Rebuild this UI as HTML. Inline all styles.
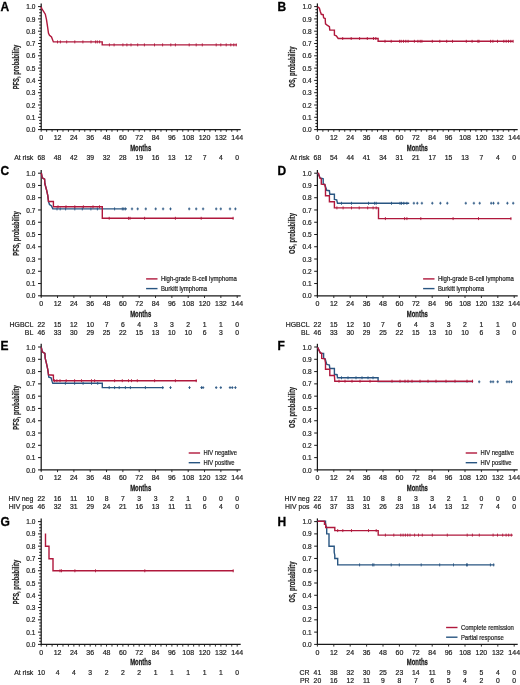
<!DOCTYPE html>
<html><head><meta charset="utf-8"><style>
html,body{margin:0;padding:0;background:#fff;}
svg{display:block;filter:blur(0.35px);}
text{font-family:"Liberation Sans", sans-serif;}
.t{fill:#222;stroke:#222;stroke-width:0.2px;}
.b{fill:#222;stroke:#222;stroke-width:0.1px;}
</style></head><body>
<svg width="520" height="685" viewBox="0 0 520 685">
<text x="0.6" y="10.8" font-size="12" font-weight="bold" fill="#000" stroke="#000" stroke-width="0.3">A</text>
<line x1="41.20" y1="3.40" x2="41.20" y2="130.10" stroke="#1a1a1a" stroke-width="1.25"/>
<line x1="40.70" y1="129.60" x2="240.70" y2="129.60" stroke="#1a1a1a" stroke-width="1.25"/>
<line x1="38.00" y1="129.60" x2="41.20" y2="129.60" stroke="#1a1a1a" stroke-width="1.0"/>
<text x="35.40" y="132.20" font-size="6.5" text-anchor="end" class="t">0.0</text>
<line x1="38.00" y1="117.30" x2="41.20" y2="117.30" stroke="#1a1a1a" stroke-width="1.0"/>
<text x="35.40" y="119.90" font-size="6.5" text-anchor="end" class="t">0.1</text>
<line x1="38.00" y1="105.00" x2="41.20" y2="105.00" stroke="#1a1a1a" stroke-width="1.0"/>
<text x="35.40" y="107.60" font-size="6.5" text-anchor="end" class="t">0.2</text>
<line x1="38.00" y1="92.70" x2="41.20" y2="92.70" stroke="#1a1a1a" stroke-width="1.0"/>
<text x="35.40" y="95.30" font-size="6.5" text-anchor="end" class="t">0.3</text>
<line x1="38.00" y1="80.40" x2="41.20" y2="80.40" stroke="#1a1a1a" stroke-width="1.0"/>
<text x="35.40" y="83.00" font-size="6.5" text-anchor="end" class="t">0.4</text>
<line x1="38.00" y1="68.10" x2="41.20" y2="68.10" stroke="#1a1a1a" stroke-width="1.0"/>
<text x="35.40" y="70.70" font-size="6.5" text-anchor="end" class="t">0.5</text>
<line x1="38.00" y1="55.80" x2="41.20" y2="55.80" stroke="#1a1a1a" stroke-width="1.0"/>
<text x="35.40" y="58.40" font-size="6.5" text-anchor="end" class="t">0.6</text>
<line x1="38.00" y1="43.50" x2="41.20" y2="43.50" stroke="#1a1a1a" stroke-width="1.0"/>
<text x="35.40" y="46.10" font-size="6.5" text-anchor="end" class="t">0.7</text>
<line x1="38.00" y1="31.20" x2="41.20" y2="31.20" stroke="#1a1a1a" stroke-width="1.0"/>
<text x="35.40" y="33.80" font-size="6.5" text-anchor="end" class="t">0.8</text>
<line x1="38.00" y1="18.90" x2="41.20" y2="18.90" stroke="#1a1a1a" stroke-width="1.0"/>
<text x="35.40" y="21.50" font-size="6.5" text-anchor="end" class="t">0.9</text>
<line x1="38.00" y1="6.60" x2="41.20" y2="6.60" stroke="#1a1a1a" stroke-width="1.0"/>
<text x="35.40" y="9.20" font-size="6.5" text-anchor="end" class="t">1.0</text>
<line x1="39.20" y1="126.52" x2="41.20" y2="126.52" stroke="#1a1a1a" stroke-width="1.0"/>
<line x1="39.20" y1="123.45" x2="41.20" y2="123.45" stroke="#1a1a1a" stroke-width="1.0"/>
<line x1="39.20" y1="120.38" x2="41.20" y2="120.38" stroke="#1a1a1a" stroke-width="1.0"/>
<line x1="39.20" y1="114.22" x2="41.20" y2="114.22" stroke="#1a1a1a" stroke-width="1.0"/>
<line x1="39.20" y1="111.15" x2="41.20" y2="111.15" stroke="#1a1a1a" stroke-width="1.0"/>
<line x1="39.20" y1="108.07" x2="41.20" y2="108.07" stroke="#1a1a1a" stroke-width="1.0"/>
<line x1="39.20" y1="101.92" x2="41.20" y2="101.92" stroke="#1a1a1a" stroke-width="1.0"/>
<line x1="39.20" y1="98.85" x2="41.20" y2="98.85" stroke="#1a1a1a" stroke-width="1.0"/>
<line x1="39.20" y1="95.77" x2="41.20" y2="95.77" stroke="#1a1a1a" stroke-width="1.0"/>
<line x1="39.20" y1="89.62" x2="41.20" y2="89.62" stroke="#1a1a1a" stroke-width="1.0"/>
<line x1="39.20" y1="86.55" x2="41.20" y2="86.55" stroke="#1a1a1a" stroke-width="1.0"/>
<line x1="39.20" y1="83.47" x2="41.20" y2="83.47" stroke="#1a1a1a" stroke-width="1.0"/>
<line x1="39.20" y1="77.32" x2="41.20" y2="77.32" stroke="#1a1a1a" stroke-width="1.0"/>
<line x1="39.20" y1="74.25" x2="41.20" y2="74.25" stroke="#1a1a1a" stroke-width="1.0"/>
<line x1="39.20" y1="71.17" x2="41.20" y2="71.17" stroke="#1a1a1a" stroke-width="1.0"/>
<line x1="39.20" y1="65.02" x2="41.20" y2="65.02" stroke="#1a1a1a" stroke-width="1.0"/>
<line x1="39.20" y1="61.95" x2="41.20" y2="61.95" stroke="#1a1a1a" stroke-width="1.0"/>
<line x1="39.20" y1="58.88" x2="41.20" y2="58.88" stroke="#1a1a1a" stroke-width="1.0"/>
<line x1="39.20" y1="52.72" x2="41.20" y2="52.72" stroke="#1a1a1a" stroke-width="1.0"/>
<line x1="39.20" y1="49.65" x2="41.20" y2="49.65" stroke="#1a1a1a" stroke-width="1.0"/>
<line x1="39.20" y1="46.57" x2="41.20" y2="46.57" stroke="#1a1a1a" stroke-width="1.0"/>
<line x1="39.20" y1="40.42" x2="41.20" y2="40.42" stroke="#1a1a1a" stroke-width="1.0"/>
<line x1="39.20" y1="37.35" x2="41.20" y2="37.35" stroke="#1a1a1a" stroke-width="1.0"/>
<line x1="39.20" y1="34.27" x2="41.20" y2="34.27" stroke="#1a1a1a" stroke-width="1.0"/>
<line x1="39.20" y1="28.12" x2="41.20" y2="28.12" stroke="#1a1a1a" stroke-width="1.0"/>
<line x1="39.20" y1="25.05" x2="41.20" y2="25.05" stroke="#1a1a1a" stroke-width="1.0"/>
<line x1="39.20" y1="21.97" x2="41.20" y2="21.97" stroke="#1a1a1a" stroke-width="1.0"/>
<line x1="39.20" y1="15.82" x2="41.20" y2="15.82" stroke="#1a1a1a" stroke-width="1.0"/>
<line x1="39.20" y1="12.75" x2="41.20" y2="12.75" stroke="#1a1a1a" stroke-width="1.0"/>
<line x1="39.20" y1="9.67" x2="41.20" y2="9.67" stroke="#1a1a1a" stroke-width="1.0"/>
<line x1="41.20" y1="129.60" x2="41.20" y2="131.80" stroke="#1a1a1a" stroke-width="0.9"/>
<line x1="46.64" y1="129.60" x2="46.64" y2="131.80" stroke="#1a1a1a" stroke-width="0.9"/>
<line x1="52.09" y1="129.60" x2="52.09" y2="131.80" stroke="#1a1a1a" stroke-width="0.9"/>
<line x1="57.53" y1="129.60" x2="57.53" y2="131.80" stroke="#1a1a1a" stroke-width="0.9"/>
<line x1="62.98" y1="129.60" x2="62.98" y2="131.80" stroke="#1a1a1a" stroke-width="0.9"/>
<line x1="68.42" y1="129.60" x2="68.42" y2="131.80" stroke="#1a1a1a" stroke-width="0.9"/>
<line x1="73.87" y1="129.60" x2="73.87" y2="131.80" stroke="#1a1a1a" stroke-width="0.9"/>
<line x1="79.31" y1="129.60" x2="79.31" y2="131.80" stroke="#1a1a1a" stroke-width="0.9"/>
<line x1="84.76" y1="129.60" x2="84.76" y2="131.80" stroke="#1a1a1a" stroke-width="0.9"/>
<line x1="90.20" y1="129.60" x2="90.20" y2="131.80" stroke="#1a1a1a" stroke-width="0.9"/>
<line x1="95.64" y1="129.60" x2="95.64" y2="131.80" stroke="#1a1a1a" stroke-width="0.9"/>
<line x1="101.09" y1="129.60" x2="101.09" y2="131.80" stroke="#1a1a1a" stroke-width="0.9"/>
<line x1="106.53" y1="129.60" x2="106.53" y2="131.80" stroke="#1a1a1a" stroke-width="0.9"/>
<line x1="111.98" y1="129.60" x2="111.98" y2="131.80" stroke="#1a1a1a" stroke-width="0.9"/>
<line x1="117.42" y1="129.60" x2="117.42" y2="131.80" stroke="#1a1a1a" stroke-width="0.9"/>
<line x1="122.87" y1="129.60" x2="122.87" y2="131.80" stroke="#1a1a1a" stroke-width="0.9"/>
<line x1="128.31" y1="129.60" x2="128.31" y2="131.80" stroke="#1a1a1a" stroke-width="0.9"/>
<line x1="133.76" y1="129.60" x2="133.76" y2="131.80" stroke="#1a1a1a" stroke-width="0.9"/>
<line x1="139.20" y1="129.60" x2="139.20" y2="131.80" stroke="#1a1a1a" stroke-width="0.9"/>
<line x1="144.64" y1="129.60" x2="144.64" y2="131.80" stroke="#1a1a1a" stroke-width="0.9"/>
<line x1="150.09" y1="129.60" x2="150.09" y2="131.80" stroke="#1a1a1a" stroke-width="0.9"/>
<line x1="155.53" y1="129.60" x2="155.53" y2="131.80" stroke="#1a1a1a" stroke-width="0.9"/>
<line x1="160.98" y1="129.60" x2="160.98" y2="131.80" stroke="#1a1a1a" stroke-width="0.9"/>
<line x1="166.42" y1="129.60" x2="166.42" y2="131.80" stroke="#1a1a1a" stroke-width="0.9"/>
<line x1="171.87" y1="129.60" x2="171.87" y2="131.80" stroke="#1a1a1a" stroke-width="0.9"/>
<line x1="177.31" y1="129.60" x2="177.31" y2="131.80" stroke="#1a1a1a" stroke-width="0.9"/>
<line x1="182.76" y1="129.60" x2="182.76" y2="131.80" stroke="#1a1a1a" stroke-width="0.9"/>
<line x1="188.20" y1="129.60" x2="188.20" y2="131.80" stroke="#1a1a1a" stroke-width="0.9"/>
<line x1="193.64" y1="129.60" x2="193.64" y2="131.80" stroke="#1a1a1a" stroke-width="0.9"/>
<line x1="199.09" y1="129.60" x2="199.09" y2="131.80" stroke="#1a1a1a" stroke-width="0.9"/>
<line x1="204.53" y1="129.60" x2="204.53" y2="131.80" stroke="#1a1a1a" stroke-width="0.9"/>
<line x1="209.98" y1="129.60" x2="209.98" y2="131.80" stroke="#1a1a1a" stroke-width="0.9"/>
<line x1="215.42" y1="129.60" x2="215.42" y2="131.80" stroke="#1a1a1a" stroke-width="0.9"/>
<line x1="220.87" y1="129.60" x2="220.87" y2="131.80" stroke="#1a1a1a" stroke-width="0.9"/>
<line x1="226.31" y1="129.60" x2="226.31" y2="131.80" stroke="#1a1a1a" stroke-width="0.9"/>
<line x1="231.76" y1="129.60" x2="231.76" y2="131.80" stroke="#1a1a1a" stroke-width="0.9"/>
<line x1="237.20" y1="129.60" x2="237.20" y2="131.80" stroke="#1a1a1a" stroke-width="0.9"/>
<text x="41.20" y="139.50" font-size="7.0" text-anchor="middle" class="t">0</text>
<text x="57.53" y="139.50" font-size="7.0" text-anchor="middle" class="t">12</text>
<text x="73.87" y="139.50" font-size="7.0" text-anchor="middle" class="t">24</text>
<text x="90.20" y="139.50" font-size="7.0" text-anchor="middle" class="t">36</text>
<text x="106.53" y="139.50" font-size="7.0" text-anchor="middle" class="t">48</text>
<text x="122.87" y="139.50" font-size="7.0" text-anchor="middle" class="t">60</text>
<text x="139.20" y="139.50" font-size="7.0" text-anchor="middle" class="t">72</text>
<text x="155.53" y="139.50" font-size="7.0" text-anchor="middle" class="t">84</text>
<text x="171.87" y="139.50" font-size="7.0" text-anchor="middle" class="t">96</text>
<text x="188.20" y="139.50" font-size="7.0" text-anchor="middle" class="t">108</text>
<text x="204.53" y="139.50" font-size="7.0" text-anchor="middle" class="t">120</text>
<text x="220.87" y="139.50" font-size="7.0" text-anchor="middle" class="t">132</text>
<text x="237.20" y="139.50" font-size="7.0" text-anchor="middle" class="t">144</text>
<text x="140.70" y="151.00" font-size="9" font-weight="bold" text-anchor="middle" fill="#1a1a1a" stroke="#1a1a1a" stroke-width="0.3" textLength="21" lengthAdjust="spacingAndGlyphs">Months</text>
<text transform="translate(18.50,67.10) rotate(-90)" font-size="8.6" font-weight="bold" text-anchor="middle" fill="#222" stroke="#222" stroke-width="0.2" textLength="44.5" lengthAdjust="spacingAndGlyphs">PFS, probability</text>
<text x="33.30" y="159.90" font-size="6.9" text-anchor="end" class="t">At risk</text>
<text x="41.20" y="159.90" font-size="6.8" text-anchor="middle" class="t">68</text>
<text x="57.53" y="159.90" font-size="6.8" text-anchor="middle" class="t">48</text>
<text x="73.87" y="159.90" font-size="6.8" text-anchor="middle" class="t">42</text>
<text x="90.20" y="159.90" font-size="6.8" text-anchor="middle" class="t">39</text>
<text x="106.53" y="159.90" font-size="6.8" text-anchor="middle" class="t">32</text>
<text x="122.87" y="159.90" font-size="6.8" text-anchor="middle" class="t">28</text>
<text x="139.20" y="159.90" font-size="6.8" text-anchor="middle" class="t">19</text>
<text x="155.53" y="159.90" font-size="6.8" text-anchor="middle" class="t">16</text>
<text x="171.87" y="159.90" font-size="6.8" text-anchor="middle" class="t">13</text>
<text x="188.20" y="159.90" font-size="6.8" text-anchor="middle" class="t">12</text>
<text x="204.53" y="159.90" font-size="6.8" text-anchor="middle" class="t">7</text>
<text x="220.87" y="159.90" font-size="6.8" text-anchor="middle" class="t">4</text>
<text x="237.20" y="159.90" font-size="6.8" text-anchor="middle" class="t">0</text>
<text x="277.6" y="10.8" font-size="12" font-weight="bold" fill="#000" stroke="#000" stroke-width="0.3">B</text>
<line x1="317.40" y1="3.40" x2="317.40" y2="130.10" stroke="#1a1a1a" stroke-width="1.25"/>
<line x1="316.90" y1="129.60" x2="517.70" y2="129.60" stroke="#1a1a1a" stroke-width="1.25"/>
<line x1="314.20" y1="129.60" x2="317.40" y2="129.60" stroke="#1a1a1a" stroke-width="1.0"/>
<text x="311.60" y="132.20" font-size="6.5" text-anchor="end" class="t">0.0</text>
<line x1="314.20" y1="117.30" x2="317.40" y2="117.30" stroke="#1a1a1a" stroke-width="1.0"/>
<text x="311.60" y="119.90" font-size="6.5" text-anchor="end" class="t">0.1</text>
<line x1="314.20" y1="105.00" x2="317.40" y2="105.00" stroke="#1a1a1a" stroke-width="1.0"/>
<text x="311.60" y="107.60" font-size="6.5" text-anchor="end" class="t">0.2</text>
<line x1="314.20" y1="92.70" x2="317.40" y2="92.70" stroke="#1a1a1a" stroke-width="1.0"/>
<text x="311.60" y="95.30" font-size="6.5" text-anchor="end" class="t">0.3</text>
<line x1="314.20" y1="80.40" x2="317.40" y2="80.40" stroke="#1a1a1a" stroke-width="1.0"/>
<text x="311.60" y="83.00" font-size="6.5" text-anchor="end" class="t">0.4</text>
<line x1="314.20" y1="68.10" x2="317.40" y2="68.10" stroke="#1a1a1a" stroke-width="1.0"/>
<text x="311.60" y="70.70" font-size="6.5" text-anchor="end" class="t">0.5</text>
<line x1="314.20" y1="55.80" x2="317.40" y2="55.80" stroke="#1a1a1a" stroke-width="1.0"/>
<text x="311.60" y="58.40" font-size="6.5" text-anchor="end" class="t">0.6</text>
<line x1="314.20" y1="43.50" x2="317.40" y2="43.50" stroke="#1a1a1a" stroke-width="1.0"/>
<text x="311.60" y="46.10" font-size="6.5" text-anchor="end" class="t">0.7</text>
<line x1="314.20" y1="31.20" x2="317.40" y2="31.20" stroke="#1a1a1a" stroke-width="1.0"/>
<text x="311.60" y="33.80" font-size="6.5" text-anchor="end" class="t">0.8</text>
<line x1="314.20" y1="18.90" x2="317.40" y2="18.90" stroke="#1a1a1a" stroke-width="1.0"/>
<text x="311.60" y="21.50" font-size="6.5" text-anchor="end" class="t">0.9</text>
<line x1="314.20" y1="6.60" x2="317.40" y2="6.60" stroke="#1a1a1a" stroke-width="1.0"/>
<text x="311.60" y="9.20" font-size="6.5" text-anchor="end" class="t">1.0</text>
<line x1="315.40" y1="126.52" x2="317.40" y2="126.52" stroke="#1a1a1a" stroke-width="1.0"/>
<line x1="315.40" y1="123.45" x2="317.40" y2="123.45" stroke="#1a1a1a" stroke-width="1.0"/>
<line x1="315.40" y1="120.38" x2="317.40" y2="120.38" stroke="#1a1a1a" stroke-width="1.0"/>
<line x1="315.40" y1="114.22" x2="317.40" y2="114.22" stroke="#1a1a1a" stroke-width="1.0"/>
<line x1="315.40" y1="111.15" x2="317.40" y2="111.15" stroke="#1a1a1a" stroke-width="1.0"/>
<line x1="315.40" y1="108.07" x2="317.40" y2="108.07" stroke="#1a1a1a" stroke-width="1.0"/>
<line x1="315.40" y1="101.92" x2="317.40" y2="101.92" stroke="#1a1a1a" stroke-width="1.0"/>
<line x1="315.40" y1="98.85" x2="317.40" y2="98.85" stroke="#1a1a1a" stroke-width="1.0"/>
<line x1="315.40" y1="95.77" x2="317.40" y2="95.77" stroke="#1a1a1a" stroke-width="1.0"/>
<line x1="315.40" y1="89.62" x2="317.40" y2="89.62" stroke="#1a1a1a" stroke-width="1.0"/>
<line x1="315.40" y1="86.55" x2="317.40" y2="86.55" stroke="#1a1a1a" stroke-width="1.0"/>
<line x1="315.40" y1="83.47" x2="317.40" y2="83.47" stroke="#1a1a1a" stroke-width="1.0"/>
<line x1="315.40" y1="77.32" x2="317.40" y2="77.32" stroke="#1a1a1a" stroke-width="1.0"/>
<line x1="315.40" y1="74.25" x2="317.40" y2="74.25" stroke="#1a1a1a" stroke-width="1.0"/>
<line x1="315.40" y1="71.17" x2="317.40" y2="71.17" stroke="#1a1a1a" stroke-width="1.0"/>
<line x1="315.40" y1="65.02" x2="317.40" y2="65.02" stroke="#1a1a1a" stroke-width="1.0"/>
<line x1="315.40" y1="61.95" x2="317.40" y2="61.95" stroke="#1a1a1a" stroke-width="1.0"/>
<line x1="315.40" y1="58.88" x2="317.40" y2="58.88" stroke="#1a1a1a" stroke-width="1.0"/>
<line x1="315.40" y1="52.72" x2="317.40" y2="52.72" stroke="#1a1a1a" stroke-width="1.0"/>
<line x1="315.40" y1="49.65" x2="317.40" y2="49.65" stroke="#1a1a1a" stroke-width="1.0"/>
<line x1="315.40" y1="46.57" x2="317.40" y2="46.57" stroke="#1a1a1a" stroke-width="1.0"/>
<line x1="315.40" y1="40.42" x2="317.40" y2="40.42" stroke="#1a1a1a" stroke-width="1.0"/>
<line x1="315.40" y1="37.35" x2="317.40" y2="37.35" stroke="#1a1a1a" stroke-width="1.0"/>
<line x1="315.40" y1="34.27" x2="317.40" y2="34.27" stroke="#1a1a1a" stroke-width="1.0"/>
<line x1="315.40" y1="28.12" x2="317.40" y2="28.12" stroke="#1a1a1a" stroke-width="1.0"/>
<line x1="315.40" y1="25.05" x2="317.40" y2="25.05" stroke="#1a1a1a" stroke-width="1.0"/>
<line x1="315.40" y1="21.97" x2="317.40" y2="21.97" stroke="#1a1a1a" stroke-width="1.0"/>
<line x1="315.40" y1="15.82" x2="317.40" y2="15.82" stroke="#1a1a1a" stroke-width="1.0"/>
<line x1="315.40" y1="12.75" x2="317.40" y2="12.75" stroke="#1a1a1a" stroke-width="1.0"/>
<line x1="315.40" y1="9.67" x2="317.40" y2="9.67" stroke="#1a1a1a" stroke-width="1.0"/>
<line x1="317.40" y1="129.60" x2="317.40" y2="131.80" stroke="#1a1a1a" stroke-width="0.9"/>
<line x1="322.87" y1="129.60" x2="322.87" y2="131.80" stroke="#1a1a1a" stroke-width="0.9"/>
<line x1="328.33" y1="129.60" x2="328.33" y2="131.80" stroke="#1a1a1a" stroke-width="0.9"/>
<line x1="333.80" y1="129.60" x2="333.80" y2="131.80" stroke="#1a1a1a" stroke-width="0.9"/>
<line x1="339.27" y1="129.60" x2="339.27" y2="131.80" stroke="#1a1a1a" stroke-width="0.9"/>
<line x1="344.73" y1="129.60" x2="344.73" y2="131.80" stroke="#1a1a1a" stroke-width="0.9"/>
<line x1="350.20" y1="129.60" x2="350.20" y2="131.80" stroke="#1a1a1a" stroke-width="0.9"/>
<line x1="355.67" y1="129.60" x2="355.67" y2="131.80" stroke="#1a1a1a" stroke-width="0.9"/>
<line x1="361.13" y1="129.60" x2="361.13" y2="131.80" stroke="#1a1a1a" stroke-width="0.9"/>
<line x1="366.60" y1="129.60" x2="366.60" y2="131.80" stroke="#1a1a1a" stroke-width="0.9"/>
<line x1="372.07" y1="129.60" x2="372.07" y2="131.80" stroke="#1a1a1a" stroke-width="0.9"/>
<line x1="377.53" y1="129.60" x2="377.53" y2="131.80" stroke="#1a1a1a" stroke-width="0.9"/>
<line x1="383.00" y1="129.60" x2="383.00" y2="131.80" stroke="#1a1a1a" stroke-width="0.9"/>
<line x1="388.47" y1="129.60" x2="388.47" y2="131.80" stroke="#1a1a1a" stroke-width="0.9"/>
<line x1="393.93" y1="129.60" x2="393.93" y2="131.80" stroke="#1a1a1a" stroke-width="0.9"/>
<line x1="399.40" y1="129.60" x2="399.40" y2="131.80" stroke="#1a1a1a" stroke-width="0.9"/>
<line x1="404.87" y1="129.60" x2="404.87" y2="131.80" stroke="#1a1a1a" stroke-width="0.9"/>
<line x1="410.33" y1="129.60" x2="410.33" y2="131.80" stroke="#1a1a1a" stroke-width="0.9"/>
<line x1="415.80" y1="129.60" x2="415.80" y2="131.80" stroke="#1a1a1a" stroke-width="0.9"/>
<line x1="421.27" y1="129.60" x2="421.27" y2="131.80" stroke="#1a1a1a" stroke-width="0.9"/>
<line x1="426.73" y1="129.60" x2="426.73" y2="131.80" stroke="#1a1a1a" stroke-width="0.9"/>
<line x1="432.20" y1="129.60" x2="432.20" y2="131.80" stroke="#1a1a1a" stroke-width="0.9"/>
<line x1="437.67" y1="129.60" x2="437.67" y2="131.80" stroke="#1a1a1a" stroke-width="0.9"/>
<line x1="443.13" y1="129.60" x2="443.13" y2="131.80" stroke="#1a1a1a" stroke-width="0.9"/>
<line x1="448.60" y1="129.60" x2="448.60" y2="131.80" stroke="#1a1a1a" stroke-width="0.9"/>
<line x1="454.07" y1="129.60" x2="454.07" y2="131.80" stroke="#1a1a1a" stroke-width="0.9"/>
<line x1="459.53" y1="129.60" x2="459.53" y2="131.80" stroke="#1a1a1a" stroke-width="0.9"/>
<line x1="465.00" y1="129.60" x2="465.00" y2="131.80" stroke="#1a1a1a" stroke-width="0.9"/>
<line x1="470.47" y1="129.60" x2="470.47" y2="131.80" stroke="#1a1a1a" stroke-width="0.9"/>
<line x1="475.93" y1="129.60" x2="475.93" y2="131.80" stroke="#1a1a1a" stroke-width="0.9"/>
<line x1="481.40" y1="129.60" x2="481.40" y2="131.80" stroke="#1a1a1a" stroke-width="0.9"/>
<line x1="486.87" y1="129.60" x2="486.87" y2="131.80" stroke="#1a1a1a" stroke-width="0.9"/>
<line x1="492.33" y1="129.60" x2="492.33" y2="131.80" stroke="#1a1a1a" stroke-width="0.9"/>
<line x1="497.80" y1="129.60" x2="497.80" y2="131.80" stroke="#1a1a1a" stroke-width="0.9"/>
<line x1="503.27" y1="129.60" x2="503.27" y2="131.80" stroke="#1a1a1a" stroke-width="0.9"/>
<line x1="508.73" y1="129.60" x2="508.73" y2="131.80" stroke="#1a1a1a" stroke-width="0.9"/>
<line x1="514.20" y1="129.60" x2="514.20" y2="131.80" stroke="#1a1a1a" stroke-width="0.9"/>
<text x="317.40" y="139.50" font-size="7.0" text-anchor="middle" class="t">0</text>
<text x="333.80" y="139.50" font-size="7.0" text-anchor="middle" class="t">12</text>
<text x="350.20" y="139.50" font-size="7.0" text-anchor="middle" class="t">24</text>
<text x="366.60" y="139.50" font-size="7.0" text-anchor="middle" class="t">36</text>
<text x="383.00" y="139.50" font-size="7.0" text-anchor="middle" class="t">48</text>
<text x="399.40" y="139.50" font-size="7.0" text-anchor="middle" class="t">60</text>
<text x="415.80" y="139.50" font-size="7.0" text-anchor="middle" class="t">72</text>
<text x="432.20" y="139.50" font-size="7.0" text-anchor="middle" class="t">84</text>
<text x="448.60" y="139.50" font-size="7.0" text-anchor="middle" class="t">96</text>
<text x="465.00" y="139.50" font-size="7.0" text-anchor="middle" class="t">108</text>
<text x="481.40" y="139.50" font-size="7.0" text-anchor="middle" class="t">120</text>
<text x="497.80" y="139.50" font-size="7.0" text-anchor="middle" class="t">132</text>
<text x="514.20" y="139.50" font-size="7.0" text-anchor="middle" class="t">144</text>
<text x="417.30" y="151.00" font-size="9" font-weight="bold" text-anchor="middle" fill="#1a1a1a" stroke="#1a1a1a" stroke-width="0.3" textLength="21" lengthAdjust="spacingAndGlyphs">Months</text>
<text transform="translate(294.70,67.10) rotate(-90)" font-size="8.6" font-weight="bold" text-anchor="middle" fill="#222" stroke="#222" stroke-width="0.2" textLength="41" lengthAdjust="spacingAndGlyphs">OS, probability</text>
<text x="309.50" y="159.90" font-size="6.9" text-anchor="end" class="t">At risk</text>
<text x="317.40" y="159.90" font-size="6.8" text-anchor="middle" class="t">68</text>
<text x="333.80" y="159.90" font-size="6.8" text-anchor="middle" class="t">54</text>
<text x="350.20" y="159.90" font-size="6.8" text-anchor="middle" class="t">44</text>
<text x="366.60" y="159.90" font-size="6.8" text-anchor="middle" class="t">41</text>
<text x="383.00" y="159.90" font-size="6.8" text-anchor="middle" class="t">34</text>
<text x="399.40" y="159.90" font-size="6.8" text-anchor="middle" class="t">31</text>
<text x="415.80" y="159.90" font-size="6.8" text-anchor="middle" class="t">21</text>
<text x="432.20" y="159.90" font-size="6.8" text-anchor="middle" class="t">17</text>
<text x="448.60" y="159.90" font-size="6.8" text-anchor="middle" class="t">15</text>
<text x="465.00" y="159.90" font-size="6.8" text-anchor="middle" class="t">13</text>
<text x="481.40" y="159.90" font-size="6.8" text-anchor="middle" class="t">7</text>
<text x="497.80" y="159.90" font-size="6.8" text-anchor="middle" class="t">4</text>
<text x="514.20" y="159.90" font-size="6.8" text-anchor="middle" class="t">0</text>
<text x="0.6" y="175.4" font-size="12" font-weight="bold" fill="#000" stroke="#000" stroke-width="0.3">C</text>
<line x1="41.20" y1="170.00" x2="41.20" y2="296.30" stroke="#1a1a1a" stroke-width="1.25"/>
<line x1="40.70" y1="295.80" x2="240.70" y2="295.80" stroke="#1a1a1a" stroke-width="1.25"/>
<line x1="38.00" y1="295.80" x2="41.20" y2="295.80" stroke="#1a1a1a" stroke-width="1.0"/>
<text x="35.40" y="298.40" font-size="6.5" text-anchor="end" class="t">0.0</text>
<line x1="38.00" y1="283.54" x2="41.20" y2="283.54" stroke="#1a1a1a" stroke-width="1.0"/>
<text x="35.40" y="286.14" font-size="6.5" text-anchor="end" class="t">0.1</text>
<line x1="38.00" y1="271.28" x2="41.20" y2="271.28" stroke="#1a1a1a" stroke-width="1.0"/>
<text x="35.40" y="273.88" font-size="6.5" text-anchor="end" class="t">0.2</text>
<line x1="38.00" y1="259.02" x2="41.20" y2="259.02" stroke="#1a1a1a" stroke-width="1.0"/>
<text x="35.40" y="261.62" font-size="6.5" text-anchor="end" class="t">0.3</text>
<line x1="38.00" y1="246.76" x2="41.20" y2="246.76" stroke="#1a1a1a" stroke-width="1.0"/>
<text x="35.40" y="249.36" font-size="6.5" text-anchor="end" class="t">0.4</text>
<line x1="38.00" y1="234.50" x2="41.20" y2="234.50" stroke="#1a1a1a" stroke-width="1.0"/>
<text x="35.40" y="237.10" font-size="6.5" text-anchor="end" class="t">0.5</text>
<line x1="38.00" y1="222.24" x2="41.20" y2="222.24" stroke="#1a1a1a" stroke-width="1.0"/>
<text x="35.40" y="224.84" font-size="6.5" text-anchor="end" class="t">0.6</text>
<line x1="38.00" y1="209.98" x2="41.20" y2="209.98" stroke="#1a1a1a" stroke-width="1.0"/>
<text x="35.40" y="212.58" font-size="6.5" text-anchor="end" class="t">0.7</text>
<line x1="38.00" y1="197.72" x2="41.20" y2="197.72" stroke="#1a1a1a" stroke-width="1.0"/>
<text x="35.40" y="200.32" font-size="6.5" text-anchor="end" class="t">0.8</text>
<line x1="38.00" y1="185.46" x2="41.20" y2="185.46" stroke="#1a1a1a" stroke-width="1.0"/>
<text x="35.40" y="188.06" font-size="6.5" text-anchor="end" class="t">0.9</text>
<line x1="38.00" y1="173.20" x2="41.20" y2="173.20" stroke="#1a1a1a" stroke-width="1.0"/>
<text x="35.40" y="175.80" font-size="6.5" text-anchor="end" class="t">1.0</text>
<line x1="41.20" y1="295.80" x2="41.20" y2="298.00" stroke="#1a1a1a" stroke-width="0.9"/>
<line x1="57.53" y1="295.80" x2="57.53" y2="298.00" stroke="#1a1a1a" stroke-width="0.9"/>
<line x1="73.87" y1="295.80" x2="73.87" y2="298.00" stroke="#1a1a1a" stroke-width="0.9"/>
<line x1="90.20" y1="295.80" x2="90.20" y2="298.00" stroke="#1a1a1a" stroke-width="0.9"/>
<line x1="106.53" y1="295.80" x2="106.53" y2="298.00" stroke="#1a1a1a" stroke-width="0.9"/>
<line x1="122.87" y1="295.80" x2="122.87" y2="298.00" stroke="#1a1a1a" stroke-width="0.9"/>
<line x1="139.20" y1="295.80" x2="139.20" y2="298.00" stroke="#1a1a1a" stroke-width="0.9"/>
<line x1="155.53" y1="295.80" x2="155.53" y2="298.00" stroke="#1a1a1a" stroke-width="0.9"/>
<line x1="171.87" y1="295.80" x2="171.87" y2="298.00" stroke="#1a1a1a" stroke-width="0.9"/>
<line x1="188.20" y1="295.80" x2="188.20" y2="298.00" stroke="#1a1a1a" stroke-width="0.9"/>
<line x1="204.53" y1="295.80" x2="204.53" y2="298.00" stroke="#1a1a1a" stroke-width="0.9"/>
<line x1="220.87" y1="295.80" x2="220.87" y2="298.00" stroke="#1a1a1a" stroke-width="0.9"/>
<line x1="237.20" y1="295.80" x2="237.20" y2="298.00" stroke="#1a1a1a" stroke-width="0.9"/>
<text x="41.20" y="305.70" font-size="7.0" text-anchor="middle" class="t">0</text>
<text x="57.53" y="305.70" font-size="7.0" text-anchor="middle" class="t">12</text>
<text x="73.87" y="305.70" font-size="7.0" text-anchor="middle" class="t">24</text>
<text x="90.20" y="305.70" font-size="7.0" text-anchor="middle" class="t">36</text>
<text x="106.53" y="305.70" font-size="7.0" text-anchor="middle" class="t">48</text>
<text x="122.87" y="305.70" font-size="7.0" text-anchor="middle" class="t">60</text>
<text x="139.20" y="305.70" font-size="7.0" text-anchor="middle" class="t">72</text>
<text x="155.53" y="305.70" font-size="7.0" text-anchor="middle" class="t">84</text>
<text x="171.87" y="305.70" font-size="7.0" text-anchor="middle" class="t">96</text>
<text x="188.20" y="305.70" font-size="7.0" text-anchor="middle" class="t">108</text>
<text x="204.53" y="305.70" font-size="7.0" text-anchor="middle" class="t">120</text>
<text x="220.87" y="305.70" font-size="7.0" text-anchor="middle" class="t">132</text>
<text x="237.20" y="305.70" font-size="7.0" text-anchor="middle" class="t">144</text>
<text x="140.70" y="316.80" font-size="9" font-weight="bold" text-anchor="middle" fill="#1a1a1a" stroke="#1a1a1a" stroke-width="0.3" textLength="21" lengthAdjust="spacingAndGlyphs">Months</text>
<text transform="translate(18.50,233.50) rotate(-90)" font-size="8.6" font-weight="bold" text-anchor="middle" fill="#222" stroke="#222" stroke-width="0.2" textLength="44.5" lengthAdjust="spacingAndGlyphs">PFS, probability</text>
<text x="33.30" y="326.90" font-size="6.9" text-anchor="end" class="t">HGBCL</text>
<text x="41.20" y="326.90" font-size="6.8" text-anchor="middle" class="t">22</text>
<text x="57.53" y="326.90" font-size="6.8" text-anchor="middle" class="t">15</text>
<text x="73.87" y="326.90" font-size="6.8" text-anchor="middle" class="t">12</text>
<text x="90.20" y="326.90" font-size="6.8" text-anchor="middle" class="t">10</text>
<text x="106.53" y="326.90" font-size="6.8" text-anchor="middle" class="t">7</text>
<text x="122.87" y="326.90" font-size="6.8" text-anchor="middle" class="t">6</text>
<text x="139.20" y="326.90" font-size="6.8" text-anchor="middle" class="t">4</text>
<text x="155.53" y="326.90" font-size="6.8" text-anchor="middle" class="t">3</text>
<text x="171.87" y="326.90" font-size="6.8" text-anchor="middle" class="t">3</text>
<text x="188.20" y="326.90" font-size="6.8" text-anchor="middle" class="t">2</text>
<text x="204.53" y="326.90" font-size="6.8" text-anchor="middle" class="t">1</text>
<text x="220.87" y="326.90" font-size="6.8" text-anchor="middle" class="t">1</text>
<text x="237.20" y="326.90" font-size="6.8" text-anchor="middle" class="t">0</text>
<text x="33.30" y="334.70" font-size="6.9" text-anchor="end" class="t">BL</text>
<text x="41.20" y="334.70" font-size="6.8" text-anchor="middle" class="t">46</text>
<text x="57.53" y="334.70" font-size="6.8" text-anchor="middle" class="t">33</text>
<text x="73.87" y="334.70" font-size="6.8" text-anchor="middle" class="t">30</text>
<text x="90.20" y="334.70" font-size="6.8" text-anchor="middle" class="t">29</text>
<text x="106.53" y="334.70" font-size="6.8" text-anchor="middle" class="t">25</text>
<text x="122.87" y="334.70" font-size="6.8" text-anchor="middle" class="t">22</text>
<text x="139.20" y="334.70" font-size="6.8" text-anchor="middle" class="t">15</text>
<text x="155.53" y="334.70" font-size="6.8" text-anchor="middle" class="t">13</text>
<text x="171.87" y="334.70" font-size="6.8" text-anchor="middle" class="t">10</text>
<text x="188.20" y="334.70" font-size="6.8" text-anchor="middle" class="t">10</text>
<text x="204.53" y="334.70" font-size="6.8" text-anchor="middle" class="t">6</text>
<text x="220.87" y="334.70" font-size="6.8" text-anchor="middle" class="t">3</text>
<text x="237.20" y="334.70" font-size="6.8" text-anchor="middle" class="t">0</text>
<line x1="146.10" y1="278.90" x2="157.50" y2="278.90" stroke="#b0183c" stroke-width="1.4"/>
<text x="160.90" y="281.20" font-size="6.6" class="t" textLength="76.0" lengthAdjust="spacingAndGlyphs">High-grade B-cell lymphoma</text>
<line x1="146.10" y1="288.60" x2="157.50" y2="288.60" stroke="#285581" stroke-width="1.4"/>
<text x="160.90" y="290.90" font-size="6.6" class="t" textLength="46.1" lengthAdjust="spacingAndGlyphs">Burkitt lymphoma</text>
<text x="277.6" y="175.4" font-size="12" font-weight="bold" fill="#000" stroke="#000" stroke-width="0.3">D</text>
<line x1="317.40" y1="170.00" x2="317.40" y2="296.30" stroke="#1a1a1a" stroke-width="1.25"/>
<line x1="316.90" y1="295.80" x2="517.70" y2="295.80" stroke="#1a1a1a" stroke-width="1.25"/>
<line x1="314.20" y1="295.80" x2="317.40" y2="295.80" stroke="#1a1a1a" stroke-width="1.0"/>
<text x="311.60" y="298.40" font-size="6.5" text-anchor="end" class="t">0.0</text>
<line x1="314.20" y1="283.54" x2="317.40" y2="283.54" stroke="#1a1a1a" stroke-width="1.0"/>
<text x="311.60" y="286.14" font-size="6.5" text-anchor="end" class="t">0.1</text>
<line x1="314.20" y1="271.28" x2="317.40" y2="271.28" stroke="#1a1a1a" stroke-width="1.0"/>
<text x="311.60" y="273.88" font-size="6.5" text-anchor="end" class="t">0.2</text>
<line x1="314.20" y1="259.02" x2="317.40" y2="259.02" stroke="#1a1a1a" stroke-width="1.0"/>
<text x="311.60" y="261.62" font-size="6.5" text-anchor="end" class="t">0.3</text>
<line x1="314.20" y1="246.76" x2="317.40" y2="246.76" stroke="#1a1a1a" stroke-width="1.0"/>
<text x="311.60" y="249.36" font-size="6.5" text-anchor="end" class="t">0.4</text>
<line x1="314.20" y1="234.50" x2="317.40" y2="234.50" stroke="#1a1a1a" stroke-width="1.0"/>
<text x="311.60" y="237.10" font-size="6.5" text-anchor="end" class="t">0.5</text>
<line x1="314.20" y1="222.24" x2="317.40" y2="222.24" stroke="#1a1a1a" stroke-width="1.0"/>
<text x="311.60" y="224.84" font-size="6.5" text-anchor="end" class="t">0.6</text>
<line x1="314.20" y1="209.98" x2="317.40" y2="209.98" stroke="#1a1a1a" stroke-width="1.0"/>
<text x="311.60" y="212.58" font-size="6.5" text-anchor="end" class="t">0.7</text>
<line x1="314.20" y1="197.72" x2="317.40" y2="197.72" stroke="#1a1a1a" stroke-width="1.0"/>
<text x="311.60" y="200.32" font-size="6.5" text-anchor="end" class="t">0.8</text>
<line x1="314.20" y1="185.46" x2="317.40" y2="185.46" stroke="#1a1a1a" stroke-width="1.0"/>
<text x="311.60" y="188.06" font-size="6.5" text-anchor="end" class="t">0.9</text>
<line x1="314.20" y1="173.20" x2="317.40" y2="173.20" stroke="#1a1a1a" stroke-width="1.0"/>
<text x="311.60" y="175.80" font-size="6.5" text-anchor="end" class="t">1.0</text>
<line x1="317.40" y1="295.80" x2="317.40" y2="298.00" stroke="#1a1a1a" stroke-width="0.9"/>
<line x1="333.80" y1="295.80" x2="333.80" y2="298.00" stroke="#1a1a1a" stroke-width="0.9"/>
<line x1="350.20" y1="295.80" x2="350.20" y2="298.00" stroke="#1a1a1a" stroke-width="0.9"/>
<line x1="366.60" y1="295.80" x2="366.60" y2="298.00" stroke="#1a1a1a" stroke-width="0.9"/>
<line x1="383.00" y1="295.80" x2="383.00" y2="298.00" stroke="#1a1a1a" stroke-width="0.9"/>
<line x1="399.40" y1="295.80" x2="399.40" y2="298.00" stroke="#1a1a1a" stroke-width="0.9"/>
<line x1="415.80" y1="295.80" x2="415.80" y2="298.00" stroke="#1a1a1a" stroke-width="0.9"/>
<line x1="432.20" y1="295.80" x2="432.20" y2="298.00" stroke="#1a1a1a" stroke-width="0.9"/>
<line x1="448.60" y1="295.80" x2="448.60" y2="298.00" stroke="#1a1a1a" stroke-width="0.9"/>
<line x1="465.00" y1="295.80" x2="465.00" y2="298.00" stroke="#1a1a1a" stroke-width="0.9"/>
<line x1="481.40" y1="295.80" x2="481.40" y2="298.00" stroke="#1a1a1a" stroke-width="0.9"/>
<line x1="497.80" y1="295.80" x2="497.80" y2="298.00" stroke="#1a1a1a" stroke-width="0.9"/>
<line x1="514.20" y1="295.80" x2="514.20" y2="298.00" stroke="#1a1a1a" stroke-width="0.9"/>
<text x="317.40" y="305.70" font-size="7.0" text-anchor="middle" class="t">0</text>
<text x="333.80" y="305.70" font-size="7.0" text-anchor="middle" class="t">12</text>
<text x="350.20" y="305.70" font-size="7.0" text-anchor="middle" class="t">24</text>
<text x="366.60" y="305.70" font-size="7.0" text-anchor="middle" class="t">36</text>
<text x="383.00" y="305.70" font-size="7.0" text-anchor="middle" class="t">48</text>
<text x="399.40" y="305.70" font-size="7.0" text-anchor="middle" class="t">60</text>
<text x="415.80" y="305.70" font-size="7.0" text-anchor="middle" class="t">72</text>
<text x="432.20" y="305.70" font-size="7.0" text-anchor="middle" class="t">84</text>
<text x="448.60" y="305.70" font-size="7.0" text-anchor="middle" class="t">96</text>
<text x="465.00" y="305.70" font-size="7.0" text-anchor="middle" class="t">108</text>
<text x="481.40" y="305.70" font-size="7.0" text-anchor="middle" class="t">120</text>
<text x="497.80" y="305.70" font-size="7.0" text-anchor="middle" class="t">132</text>
<text x="514.20" y="305.70" font-size="7.0" text-anchor="middle" class="t">144</text>
<text x="417.30" y="316.80" font-size="9" font-weight="bold" text-anchor="middle" fill="#1a1a1a" stroke="#1a1a1a" stroke-width="0.3" textLength="21" lengthAdjust="spacingAndGlyphs">Months</text>
<text transform="translate(294.70,233.50) rotate(-90)" font-size="8.6" font-weight="bold" text-anchor="middle" fill="#222" stroke="#222" stroke-width="0.2" textLength="41" lengthAdjust="spacingAndGlyphs">OS, probability</text>
<text x="309.50" y="326.90" font-size="6.9" text-anchor="end" class="t">HGBCL</text>
<text x="317.40" y="326.90" font-size="6.8" text-anchor="middle" class="t">22</text>
<text x="333.80" y="326.90" font-size="6.8" text-anchor="middle" class="t">15</text>
<text x="350.20" y="326.90" font-size="6.8" text-anchor="middle" class="t">12</text>
<text x="366.60" y="326.90" font-size="6.8" text-anchor="middle" class="t">10</text>
<text x="383.00" y="326.90" font-size="6.8" text-anchor="middle" class="t">7</text>
<text x="399.40" y="326.90" font-size="6.8" text-anchor="middle" class="t">6</text>
<text x="415.80" y="326.90" font-size="6.8" text-anchor="middle" class="t">4</text>
<text x="432.20" y="326.90" font-size="6.8" text-anchor="middle" class="t">3</text>
<text x="448.60" y="326.90" font-size="6.8" text-anchor="middle" class="t">3</text>
<text x="465.00" y="326.90" font-size="6.8" text-anchor="middle" class="t">2</text>
<text x="481.40" y="326.90" font-size="6.8" text-anchor="middle" class="t">1</text>
<text x="497.80" y="326.90" font-size="6.8" text-anchor="middle" class="t">1</text>
<text x="514.20" y="326.90" font-size="6.8" text-anchor="middle" class="t">0</text>
<text x="309.50" y="334.70" font-size="6.9" text-anchor="end" class="t">BL</text>
<text x="317.40" y="334.70" font-size="6.8" text-anchor="middle" class="t">46</text>
<text x="333.80" y="334.70" font-size="6.8" text-anchor="middle" class="t">33</text>
<text x="350.20" y="334.70" font-size="6.8" text-anchor="middle" class="t">30</text>
<text x="366.60" y="334.70" font-size="6.8" text-anchor="middle" class="t">29</text>
<text x="383.00" y="334.70" font-size="6.8" text-anchor="middle" class="t">25</text>
<text x="399.40" y="334.70" font-size="6.8" text-anchor="middle" class="t">22</text>
<text x="415.80" y="334.70" font-size="6.8" text-anchor="middle" class="t">15</text>
<text x="432.20" y="334.70" font-size="6.8" text-anchor="middle" class="t">13</text>
<text x="448.60" y="334.70" font-size="6.8" text-anchor="middle" class="t">10</text>
<text x="465.00" y="334.70" font-size="6.8" text-anchor="middle" class="t">10</text>
<text x="481.40" y="334.70" font-size="6.8" text-anchor="middle" class="t">6</text>
<text x="497.80" y="334.70" font-size="6.8" text-anchor="middle" class="t">3</text>
<text x="514.20" y="334.70" font-size="6.8" text-anchor="middle" class="t">0</text>
<line x1="423.10" y1="278.90" x2="434.50" y2="278.90" stroke="#b0183c" stroke-width="1.4"/>
<text x="437.90" y="281.20" font-size="6.6" class="t" textLength="76.0" lengthAdjust="spacingAndGlyphs">High-grade B-cell lymphoma</text>
<line x1="423.10" y1="288.60" x2="434.50" y2="288.60" stroke="#285581" stroke-width="1.4"/>
<text x="437.90" y="290.90" font-size="6.6" class="t" textLength="46.1" lengthAdjust="spacingAndGlyphs">Burkitt lymphoma</text>
<text x="0.6" y="349.5" font-size="12" font-weight="bold" fill="#000" stroke="#000" stroke-width="0.3">E</text>
<line x1="41.20" y1="343.80" x2="41.20" y2="470.40" stroke="#1a1a1a" stroke-width="1.25"/>
<line x1="40.70" y1="469.90" x2="240.70" y2="469.90" stroke="#1a1a1a" stroke-width="1.25"/>
<line x1="38.00" y1="469.90" x2="41.20" y2="469.90" stroke="#1a1a1a" stroke-width="1.0"/>
<text x="35.40" y="472.50" font-size="6.5" text-anchor="end" class="t">0.0</text>
<line x1="38.00" y1="457.61" x2="41.20" y2="457.61" stroke="#1a1a1a" stroke-width="1.0"/>
<text x="35.40" y="460.21" font-size="6.5" text-anchor="end" class="t">0.1</text>
<line x1="38.00" y1="445.32" x2="41.20" y2="445.32" stroke="#1a1a1a" stroke-width="1.0"/>
<text x="35.40" y="447.92" font-size="6.5" text-anchor="end" class="t">0.2</text>
<line x1="38.00" y1="433.03" x2="41.20" y2="433.03" stroke="#1a1a1a" stroke-width="1.0"/>
<text x="35.40" y="435.63" font-size="6.5" text-anchor="end" class="t">0.3</text>
<line x1="38.00" y1="420.74" x2="41.20" y2="420.74" stroke="#1a1a1a" stroke-width="1.0"/>
<text x="35.40" y="423.34" font-size="6.5" text-anchor="end" class="t">0.4</text>
<line x1="38.00" y1="408.45" x2="41.20" y2="408.45" stroke="#1a1a1a" stroke-width="1.0"/>
<text x="35.40" y="411.05" font-size="6.5" text-anchor="end" class="t">0.5</text>
<line x1="38.00" y1="396.16" x2="41.20" y2="396.16" stroke="#1a1a1a" stroke-width="1.0"/>
<text x="35.40" y="398.76" font-size="6.5" text-anchor="end" class="t">0.6</text>
<line x1="38.00" y1="383.87" x2="41.20" y2="383.87" stroke="#1a1a1a" stroke-width="1.0"/>
<text x="35.40" y="386.47" font-size="6.5" text-anchor="end" class="t">0.7</text>
<line x1="38.00" y1="371.58" x2="41.20" y2="371.58" stroke="#1a1a1a" stroke-width="1.0"/>
<text x="35.40" y="374.18" font-size="6.5" text-anchor="end" class="t">0.8</text>
<line x1="38.00" y1="359.29" x2="41.20" y2="359.29" stroke="#1a1a1a" stroke-width="1.0"/>
<text x="35.40" y="361.89" font-size="6.5" text-anchor="end" class="t">0.9</text>
<line x1="38.00" y1="347.00" x2="41.20" y2="347.00" stroke="#1a1a1a" stroke-width="1.0"/>
<text x="35.40" y="349.60" font-size="6.5" text-anchor="end" class="t">1.0</text>
<line x1="41.20" y1="469.90" x2="41.20" y2="472.10" stroke="#1a1a1a" stroke-width="0.9"/>
<line x1="57.53" y1="469.90" x2="57.53" y2="472.10" stroke="#1a1a1a" stroke-width="0.9"/>
<line x1="73.87" y1="469.90" x2="73.87" y2="472.10" stroke="#1a1a1a" stroke-width="0.9"/>
<line x1="90.20" y1="469.90" x2="90.20" y2="472.10" stroke="#1a1a1a" stroke-width="0.9"/>
<line x1="106.53" y1="469.90" x2="106.53" y2="472.10" stroke="#1a1a1a" stroke-width="0.9"/>
<line x1="122.87" y1="469.90" x2="122.87" y2="472.10" stroke="#1a1a1a" stroke-width="0.9"/>
<line x1="139.20" y1="469.90" x2="139.20" y2="472.10" stroke="#1a1a1a" stroke-width="0.9"/>
<line x1="155.53" y1="469.90" x2="155.53" y2="472.10" stroke="#1a1a1a" stroke-width="0.9"/>
<line x1="171.87" y1="469.90" x2="171.87" y2="472.10" stroke="#1a1a1a" stroke-width="0.9"/>
<line x1="188.20" y1="469.90" x2="188.20" y2="472.10" stroke="#1a1a1a" stroke-width="0.9"/>
<line x1="204.53" y1="469.90" x2="204.53" y2="472.10" stroke="#1a1a1a" stroke-width="0.9"/>
<line x1="220.87" y1="469.90" x2="220.87" y2="472.10" stroke="#1a1a1a" stroke-width="0.9"/>
<line x1="237.20" y1="469.90" x2="237.20" y2="472.10" stroke="#1a1a1a" stroke-width="0.9"/>
<text x="41.20" y="480.20" font-size="7.0" text-anchor="middle" class="t">0</text>
<text x="57.53" y="480.20" font-size="7.0" text-anchor="middle" class="t">12</text>
<text x="73.87" y="480.20" font-size="7.0" text-anchor="middle" class="t">24</text>
<text x="90.20" y="480.20" font-size="7.0" text-anchor="middle" class="t">36</text>
<text x="106.53" y="480.20" font-size="7.0" text-anchor="middle" class="t">48</text>
<text x="122.87" y="480.20" font-size="7.0" text-anchor="middle" class="t">60</text>
<text x="139.20" y="480.20" font-size="7.0" text-anchor="middle" class="t">72</text>
<text x="155.53" y="480.20" font-size="7.0" text-anchor="middle" class="t">84</text>
<text x="171.87" y="480.20" font-size="7.0" text-anchor="middle" class="t">96</text>
<text x="188.20" y="480.20" font-size="7.0" text-anchor="middle" class="t">108</text>
<text x="204.53" y="480.20" font-size="7.0" text-anchor="middle" class="t">120</text>
<text x="220.87" y="480.20" font-size="7.0" text-anchor="middle" class="t">132</text>
<text x="237.20" y="480.20" font-size="7.0" text-anchor="middle" class="t">144</text>
<text x="140.70" y="490.70" font-size="9" font-weight="bold" text-anchor="middle" fill="#1a1a1a" stroke="#1a1a1a" stroke-width="0.3" textLength="21" lengthAdjust="spacingAndGlyphs">Months</text>
<text transform="translate(18.50,407.45) rotate(-90)" font-size="8.6" font-weight="bold" text-anchor="middle" fill="#222" stroke="#222" stroke-width="0.2" textLength="44.5" lengthAdjust="spacingAndGlyphs">PFS, probability</text>
<text x="33.30" y="501.00" font-size="6.9" text-anchor="end" class="t">HIV neg</text>
<text x="41.20" y="501.00" font-size="6.8" text-anchor="middle" class="t">22</text>
<text x="57.53" y="501.00" font-size="6.8" text-anchor="middle" class="t">16</text>
<text x="73.87" y="501.00" font-size="6.8" text-anchor="middle" class="t">11</text>
<text x="90.20" y="501.00" font-size="6.8" text-anchor="middle" class="t">10</text>
<text x="106.53" y="501.00" font-size="6.8" text-anchor="middle" class="t">8</text>
<text x="122.87" y="501.00" font-size="6.8" text-anchor="middle" class="t">7</text>
<text x="139.20" y="501.00" font-size="6.8" text-anchor="middle" class="t">3</text>
<text x="155.53" y="501.00" font-size="6.8" text-anchor="middle" class="t">3</text>
<text x="171.87" y="501.00" font-size="6.8" text-anchor="middle" class="t">2</text>
<text x="188.20" y="501.00" font-size="6.8" text-anchor="middle" class="t">1</text>
<text x="204.53" y="501.00" font-size="6.8" text-anchor="middle" class="t">0</text>
<text x="220.87" y="501.00" font-size="6.8" text-anchor="middle" class="t">0</text>
<text x="237.20" y="501.00" font-size="6.8" text-anchor="middle" class="t">0</text>
<text x="33.30" y="508.90" font-size="6.9" text-anchor="end" class="t">HIV pos</text>
<text x="41.20" y="508.90" font-size="6.8" text-anchor="middle" class="t">46</text>
<text x="57.53" y="508.90" font-size="6.8" text-anchor="middle" class="t">32</text>
<text x="73.87" y="508.90" font-size="6.8" text-anchor="middle" class="t">31</text>
<text x="90.20" y="508.90" font-size="6.8" text-anchor="middle" class="t">29</text>
<text x="106.53" y="508.90" font-size="6.8" text-anchor="middle" class="t">24</text>
<text x="122.87" y="508.90" font-size="6.8" text-anchor="middle" class="t">21</text>
<text x="139.20" y="508.90" font-size="6.8" text-anchor="middle" class="t">16</text>
<text x="155.53" y="508.90" font-size="6.8" text-anchor="middle" class="t">13</text>
<text x="171.87" y="508.90" font-size="6.8" text-anchor="middle" class="t">11</text>
<text x="188.20" y="508.90" font-size="6.8" text-anchor="middle" class="t">11</text>
<text x="204.53" y="508.90" font-size="6.8" text-anchor="middle" class="t">6</text>
<text x="220.87" y="508.90" font-size="6.8" text-anchor="middle" class="t">4</text>
<text x="237.20" y="508.90" font-size="6.8" text-anchor="middle" class="t">0</text>
<line x1="188.70" y1="453.00" x2="200.10" y2="453.00" stroke="#b0183c" stroke-width="1.4"/>
<text x="203.50" y="455.30" font-size="6.6" class="t" textLength="33.4" lengthAdjust="spacingAndGlyphs">HIV negative</text>
<line x1="188.70" y1="462.70" x2="200.10" y2="462.70" stroke="#285581" stroke-width="1.4"/>
<text x="203.50" y="465.00" font-size="6.6" class="t" textLength="31.1" lengthAdjust="spacingAndGlyphs">HIV positive</text>
<text x="277.6" y="349.5" font-size="12" font-weight="bold" fill="#000" stroke="#000" stroke-width="0.3">F</text>
<line x1="317.40" y1="343.80" x2="317.40" y2="470.40" stroke="#1a1a1a" stroke-width="1.25"/>
<line x1="316.90" y1="469.90" x2="517.70" y2="469.90" stroke="#1a1a1a" stroke-width="1.25"/>
<line x1="314.20" y1="469.90" x2="317.40" y2="469.90" stroke="#1a1a1a" stroke-width="1.0"/>
<text x="311.60" y="472.50" font-size="6.5" text-anchor="end" class="t">0.0</text>
<line x1="314.20" y1="457.61" x2="317.40" y2="457.61" stroke="#1a1a1a" stroke-width="1.0"/>
<text x="311.60" y="460.21" font-size="6.5" text-anchor="end" class="t">0.1</text>
<line x1="314.20" y1="445.32" x2="317.40" y2="445.32" stroke="#1a1a1a" stroke-width="1.0"/>
<text x="311.60" y="447.92" font-size="6.5" text-anchor="end" class="t">0.2</text>
<line x1="314.20" y1="433.03" x2="317.40" y2="433.03" stroke="#1a1a1a" stroke-width="1.0"/>
<text x="311.60" y="435.63" font-size="6.5" text-anchor="end" class="t">0.3</text>
<line x1="314.20" y1="420.74" x2="317.40" y2="420.74" stroke="#1a1a1a" stroke-width="1.0"/>
<text x="311.60" y="423.34" font-size="6.5" text-anchor="end" class="t">0.4</text>
<line x1="314.20" y1="408.45" x2="317.40" y2="408.45" stroke="#1a1a1a" stroke-width="1.0"/>
<text x="311.60" y="411.05" font-size="6.5" text-anchor="end" class="t">0.5</text>
<line x1="314.20" y1="396.16" x2="317.40" y2="396.16" stroke="#1a1a1a" stroke-width="1.0"/>
<text x="311.60" y="398.76" font-size="6.5" text-anchor="end" class="t">0.6</text>
<line x1="314.20" y1="383.87" x2="317.40" y2="383.87" stroke="#1a1a1a" stroke-width="1.0"/>
<text x="311.60" y="386.47" font-size="6.5" text-anchor="end" class="t">0.7</text>
<line x1="314.20" y1="371.58" x2="317.40" y2="371.58" stroke="#1a1a1a" stroke-width="1.0"/>
<text x="311.60" y="374.18" font-size="6.5" text-anchor="end" class="t">0.8</text>
<line x1="314.20" y1="359.29" x2="317.40" y2="359.29" stroke="#1a1a1a" stroke-width="1.0"/>
<text x="311.60" y="361.89" font-size="6.5" text-anchor="end" class="t">0.9</text>
<line x1="314.20" y1="347.00" x2="317.40" y2="347.00" stroke="#1a1a1a" stroke-width="1.0"/>
<text x="311.60" y="349.60" font-size="6.5" text-anchor="end" class="t">1.0</text>
<line x1="317.40" y1="469.90" x2="317.40" y2="472.10" stroke="#1a1a1a" stroke-width="0.9"/>
<line x1="333.80" y1="469.90" x2="333.80" y2="472.10" stroke="#1a1a1a" stroke-width="0.9"/>
<line x1="350.20" y1="469.90" x2="350.20" y2="472.10" stroke="#1a1a1a" stroke-width="0.9"/>
<line x1="366.60" y1="469.90" x2="366.60" y2="472.10" stroke="#1a1a1a" stroke-width="0.9"/>
<line x1="383.00" y1="469.90" x2="383.00" y2="472.10" stroke="#1a1a1a" stroke-width="0.9"/>
<line x1="399.40" y1="469.90" x2="399.40" y2="472.10" stroke="#1a1a1a" stroke-width="0.9"/>
<line x1="415.80" y1="469.90" x2="415.80" y2="472.10" stroke="#1a1a1a" stroke-width="0.9"/>
<line x1="432.20" y1="469.90" x2="432.20" y2="472.10" stroke="#1a1a1a" stroke-width="0.9"/>
<line x1="448.60" y1="469.90" x2="448.60" y2="472.10" stroke="#1a1a1a" stroke-width="0.9"/>
<line x1="465.00" y1="469.90" x2="465.00" y2="472.10" stroke="#1a1a1a" stroke-width="0.9"/>
<line x1="481.40" y1="469.90" x2="481.40" y2="472.10" stroke="#1a1a1a" stroke-width="0.9"/>
<line x1="497.80" y1="469.90" x2="497.80" y2="472.10" stroke="#1a1a1a" stroke-width="0.9"/>
<line x1="514.20" y1="469.90" x2="514.20" y2="472.10" stroke="#1a1a1a" stroke-width="0.9"/>
<text x="317.40" y="480.20" font-size="7.0" text-anchor="middle" class="t">0</text>
<text x="333.80" y="480.20" font-size="7.0" text-anchor="middle" class="t">12</text>
<text x="350.20" y="480.20" font-size="7.0" text-anchor="middle" class="t">24</text>
<text x="366.60" y="480.20" font-size="7.0" text-anchor="middle" class="t">36</text>
<text x="383.00" y="480.20" font-size="7.0" text-anchor="middle" class="t">48</text>
<text x="399.40" y="480.20" font-size="7.0" text-anchor="middle" class="t">60</text>
<text x="415.80" y="480.20" font-size="7.0" text-anchor="middle" class="t">72</text>
<text x="432.20" y="480.20" font-size="7.0" text-anchor="middle" class="t">84</text>
<text x="448.60" y="480.20" font-size="7.0" text-anchor="middle" class="t">96</text>
<text x="465.00" y="480.20" font-size="7.0" text-anchor="middle" class="t">108</text>
<text x="481.40" y="480.20" font-size="7.0" text-anchor="middle" class="t">120</text>
<text x="497.80" y="480.20" font-size="7.0" text-anchor="middle" class="t">132</text>
<text x="514.20" y="480.20" font-size="7.0" text-anchor="middle" class="t">144</text>
<text x="417.30" y="490.70" font-size="9" font-weight="bold" text-anchor="middle" fill="#1a1a1a" stroke="#1a1a1a" stroke-width="0.3" textLength="21" lengthAdjust="spacingAndGlyphs">Months</text>
<text transform="translate(294.70,407.45) rotate(-90)" font-size="8.6" font-weight="bold" text-anchor="middle" fill="#222" stroke="#222" stroke-width="0.2" textLength="41" lengthAdjust="spacingAndGlyphs">OS, probability</text>
<text x="309.50" y="501.00" font-size="6.9" text-anchor="end" class="t">HIV neg</text>
<text x="317.40" y="501.00" font-size="6.8" text-anchor="middle" class="t">22</text>
<text x="333.80" y="501.00" font-size="6.8" text-anchor="middle" class="t">17</text>
<text x="350.20" y="501.00" font-size="6.8" text-anchor="middle" class="t">11</text>
<text x="366.60" y="501.00" font-size="6.8" text-anchor="middle" class="t">10</text>
<text x="383.00" y="501.00" font-size="6.8" text-anchor="middle" class="t">8</text>
<text x="399.40" y="501.00" font-size="6.8" text-anchor="middle" class="t">8</text>
<text x="415.80" y="501.00" font-size="6.8" text-anchor="middle" class="t">3</text>
<text x="432.20" y="501.00" font-size="6.8" text-anchor="middle" class="t">3</text>
<text x="448.60" y="501.00" font-size="6.8" text-anchor="middle" class="t">2</text>
<text x="465.00" y="501.00" font-size="6.8" text-anchor="middle" class="t">1</text>
<text x="481.40" y="501.00" font-size="6.8" text-anchor="middle" class="t">0</text>
<text x="497.80" y="501.00" font-size="6.8" text-anchor="middle" class="t">0</text>
<text x="514.20" y="501.00" font-size="6.8" text-anchor="middle" class="t">0</text>
<text x="309.50" y="508.90" font-size="6.9" text-anchor="end" class="t">HIV pos</text>
<text x="317.40" y="508.90" font-size="6.8" text-anchor="middle" class="t">46</text>
<text x="333.80" y="508.90" font-size="6.8" text-anchor="middle" class="t">37</text>
<text x="350.20" y="508.90" font-size="6.8" text-anchor="middle" class="t">33</text>
<text x="366.60" y="508.90" font-size="6.8" text-anchor="middle" class="t">31</text>
<text x="383.00" y="508.90" font-size="6.8" text-anchor="middle" class="t">26</text>
<text x="399.40" y="508.90" font-size="6.8" text-anchor="middle" class="t">23</text>
<text x="415.80" y="508.90" font-size="6.8" text-anchor="middle" class="t">18</text>
<text x="432.20" y="508.90" font-size="6.8" text-anchor="middle" class="t">14</text>
<text x="448.60" y="508.90" font-size="6.8" text-anchor="middle" class="t">13</text>
<text x="465.00" y="508.90" font-size="6.8" text-anchor="middle" class="t">12</text>
<text x="481.40" y="508.90" font-size="6.8" text-anchor="middle" class="t">7</text>
<text x="497.80" y="508.90" font-size="6.8" text-anchor="middle" class="t">4</text>
<text x="514.20" y="508.90" font-size="6.8" text-anchor="middle" class="t">0</text>
<line x1="465.70" y1="453.00" x2="477.10" y2="453.00" stroke="#b0183c" stroke-width="1.4"/>
<text x="480.50" y="455.30" font-size="6.6" class="t" textLength="33.4" lengthAdjust="spacingAndGlyphs">HIV negative</text>
<line x1="465.70" y1="462.70" x2="477.10" y2="462.70" stroke="#285581" stroke-width="1.4"/>
<text x="480.50" y="465.00" font-size="6.6" class="t" textLength="31.1" lengthAdjust="spacingAndGlyphs">HIV positive</text>
<text x="0.6" y="525.6" font-size="12" font-weight="bold" fill="#000" stroke="#000" stroke-width="0.3">G</text>
<line x1="41.20" y1="518.40" x2="41.20" y2="644.90" stroke="#1a1a1a" stroke-width="1.25"/>
<line x1="40.70" y1="644.40" x2="240.70" y2="644.40" stroke="#1a1a1a" stroke-width="1.25"/>
<line x1="38.00" y1="644.40" x2="41.20" y2="644.40" stroke="#1a1a1a" stroke-width="1.0"/>
<text x="35.40" y="647.00" font-size="6.5" text-anchor="end" class="t">0.0</text>
<line x1="38.00" y1="632.12" x2="41.20" y2="632.12" stroke="#1a1a1a" stroke-width="1.0"/>
<text x="35.40" y="634.72" font-size="6.5" text-anchor="end" class="t">0.1</text>
<line x1="38.00" y1="619.84" x2="41.20" y2="619.84" stroke="#1a1a1a" stroke-width="1.0"/>
<text x="35.40" y="622.44" font-size="6.5" text-anchor="end" class="t">0.2</text>
<line x1="38.00" y1="607.56" x2="41.20" y2="607.56" stroke="#1a1a1a" stroke-width="1.0"/>
<text x="35.40" y="610.16" font-size="6.5" text-anchor="end" class="t">0.3</text>
<line x1="38.00" y1="595.28" x2="41.20" y2="595.28" stroke="#1a1a1a" stroke-width="1.0"/>
<text x="35.40" y="597.88" font-size="6.5" text-anchor="end" class="t">0.4</text>
<line x1="38.00" y1="583.00" x2="41.20" y2="583.00" stroke="#1a1a1a" stroke-width="1.0"/>
<text x="35.40" y="585.60" font-size="6.5" text-anchor="end" class="t">0.5</text>
<line x1="38.00" y1="570.72" x2="41.20" y2="570.72" stroke="#1a1a1a" stroke-width="1.0"/>
<text x="35.40" y="573.32" font-size="6.5" text-anchor="end" class="t">0.6</text>
<line x1="38.00" y1="558.44" x2="41.20" y2="558.44" stroke="#1a1a1a" stroke-width="1.0"/>
<text x="35.40" y="561.04" font-size="6.5" text-anchor="end" class="t">0.7</text>
<line x1="38.00" y1="546.16" x2="41.20" y2="546.16" stroke="#1a1a1a" stroke-width="1.0"/>
<text x="35.40" y="548.76" font-size="6.5" text-anchor="end" class="t">0.8</text>
<line x1="38.00" y1="533.88" x2="41.20" y2="533.88" stroke="#1a1a1a" stroke-width="1.0"/>
<text x="35.40" y="536.48" font-size="6.5" text-anchor="end" class="t">0.9</text>
<line x1="38.00" y1="521.60" x2="41.20" y2="521.60" stroke="#1a1a1a" stroke-width="1.0"/>
<text x="35.40" y="524.20" font-size="6.5" text-anchor="end" class="t">1.0</text>
<line x1="39.20" y1="641.33" x2="41.20" y2="641.33" stroke="#1a1a1a" stroke-width="1.0"/>
<line x1="39.20" y1="638.26" x2="41.20" y2="638.26" stroke="#1a1a1a" stroke-width="1.0"/>
<line x1="39.20" y1="635.19" x2="41.20" y2="635.19" stroke="#1a1a1a" stroke-width="1.0"/>
<line x1="39.20" y1="629.05" x2="41.20" y2="629.05" stroke="#1a1a1a" stroke-width="1.0"/>
<line x1="39.20" y1="625.98" x2="41.20" y2="625.98" stroke="#1a1a1a" stroke-width="1.0"/>
<line x1="39.20" y1="622.91" x2="41.20" y2="622.91" stroke="#1a1a1a" stroke-width="1.0"/>
<line x1="39.20" y1="616.77" x2="41.20" y2="616.77" stroke="#1a1a1a" stroke-width="1.0"/>
<line x1="39.20" y1="613.70" x2="41.20" y2="613.70" stroke="#1a1a1a" stroke-width="1.0"/>
<line x1="39.20" y1="610.63" x2="41.20" y2="610.63" stroke="#1a1a1a" stroke-width="1.0"/>
<line x1="39.20" y1="604.49" x2="41.20" y2="604.49" stroke="#1a1a1a" stroke-width="1.0"/>
<line x1="39.20" y1="601.42" x2="41.20" y2="601.42" stroke="#1a1a1a" stroke-width="1.0"/>
<line x1="39.20" y1="598.35" x2="41.20" y2="598.35" stroke="#1a1a1a" stroke-width="1.0"/>
<line x1="39.20" y1="592.21" x2="41.20" y2="592.21" stroke="#1a1a1a" stroke-width="1.0"/>
<line x1="39.20" y1="589.14" x2="41.20" y2="589.14" stroke="#1a1a1a" stroke-width="1.0"/>
<line x1="39.20" y1="586.07" x2="41.20" y2="586.07" stroke="#1a1a1a" stroke-width="1.0"/>
<line x1="39.20" y1="579.93" x2="41.20" y2="579.93" stroke="#1a1a1a" stroke-width="1.0"/>
<line x1="39.20" y1="576.86" x2="41.20" y2="576.86" stroke="#1a1a1a" stroke-width="1.0"/>
<line x1="39.20" y1="573.79" x2="41.20" y2="573.79" stroke="#1a1a1a" stroke-width="1.0"/>
<line x1="39.20" y1="567.65" x2="41.20" y2="567.65" stroke="#1a1a1a" stroke-width="1.0"/>
<line x1="39.20" y1="564.58" x2="41.20" y2="564.58" stroke="#1a1a1a" stroke-width="1.0"/>
<line x1="39.20" y1="561.51" x2="41.20" y2="561.51" stroke="#1a1a1a" stroke-width="1.0"/>
<line x1="39.20" y1="555.37" x2="41.20" y2="555.37" stroke="#1a1a1a" stroke-width="1.0"/>
<line x1="39.20" y1="552.30" x2="41.20" y2="552.30" stroke="#1a1a1a" stroke-width="1.0"/>
<line x1="39.20" y1="549.23" x2="41.20" y2="549.23" stroke="#1a1a1a" stroke-width="1.0"/>
<line x1="39.20" y1="543.09" x2="41.20" y2="543.09" stroke="#1a1a1a" stroke-width="1.0"/>
<line x1="39.20" y1="540.02" x2="41.20" y2="540.02" stroke="#1a1a1a" stroke-width="1.0"/>
<line x1="39.20" y1="536.95" x2="41.20" y2="536.95" stroke="#1a1a1a" stroke-width="1.0"/>
<line x1="39.20" y1="530.81" x2="41.20" y2="530.81" stroke="#1a1a1a" stroke-width="1.0"/>
<line x1="39.20" y1="527.74" x2="41.20" y2="527.74" stroke="#1a1a1a" stroke-width="1.0"/>
<line x1="39.20" y1="524.67" x2="41.20" y2="524.67" stroke="#1a1a1a" stroke-width="1.0"/>
<line x1="41.20" y1="644.40" x2="41.20" y2="646.60" stroke="#1a1a1a" stroke-width="0.9"/>
<line x1="46.64" y1="644.40" x2="46.64" y2="646.60" stroke="#1a1a1a" stroke-width="0.9"/>
<line x1="52.09" y1="644.40" x2="52.09" y2="646.60" stroke="#1a1a1a" stroke-width="0.9"/>
<line x1="57.53" y1="644.40" x2="57.53" y2="646.60" stroke="#1a1a1a" stroke-width="0.9"/>
<line x1="62.98" y1="644.40" x2="62.98" y2="646.60" stroke="#1a1a1a" stroke-width="0.9"/>
<line x1="68.42" y1="644.40" x2="68.42" y2="646.60" stroke="#1a1a1a" stroke-width="0.9"/>
<line x1="73.87" y1="644.40" x2="73.87" y2="646.60" stroke="#1a1a1a" stroke-width="0.9"/>
<line x1="79.31" y1="644.40" x2="79.31" y2="646.60" stroke="#1a1a1a" stroke-width="0.9"/>
<line x1="84.76" y1="644.40" x2="84.76" y2="646.60" stroke="#1a1a1a" stroke-width="0.9"/>
<line x1="90.20" y1="644.40" x2="90.20" y2="646.60" stroke="#1a1a1a" stroke-width="0.9"/>
<line x1="95.64" y1="644.40" x2="95.64" y2="646.60" stroke="#1a1a1a" stroke-width="0.9"/>
<line x1="101.09" y1="644.40" x2="101.09" y2="646.60" stroke="#1a1a1a" stroke-width="0.9"/>
<line x1="106.53" y1="644.40" x2="106.53" y2="646.60" stroke="#1a1a1a" stroke-width="0.9"/>
<line x1="111.98" y1="644.40" x2="111.98" y2="646.60" stroke="#1a1a1a" stroke-width="0.9"/>
<line x1="117.42" y1="644.40" x2="117.42" y2="646.60" stroke="#1a1a1a" stroke-width="0.9"/>
<line x1="122.87" y1="644.40" x2="122.87" y2="646.60" stroke="#1a1a1a" stroke-width="0.9"/>
<line x1="128.31" y1="644.40" x2="128.31" y2="646.60" stroke="#1a1a1a" stroke-width="0.9"/>
<line x1="133.76" y1="644.40" x2="133.76" y2="646.60" stroke="#1a1a1a" stroke-width="0.9"/>
<line x1="139.20" y1="644.40" x2="139.20" y2="646.60" stroke="#1a1a1a" stroke-width="0.9"/>
<line x1="144.64" y1="644.40" x2="144.64" y2="646.60" stroke="#1a1a1a" stroke-width="0.9"/>
<line x1="150.09" y1="644.40" x2="150.09" y2="646.60" stroke="#1a1a1a" stroke-width="0.9"/>
<line x1="155.53" y1="644.40" x2="155.53" y2="646.60" stroke="#1a1a1a" stroke-width="0.9"/>
<line x1="160.98" y1="644.40" x2="160.98" y2="646.60" stroke="#1a1a1a" stroke-width="0.9"/>
<line x1="166.42" y1="644.40" x2="166.42" y2="646.60" stroke="#1a1a1a" stroke-width="0.9"/>
<line x1="171.87" y1="644.40" x2="171.87" y2="646.60" stroke="#1a1a1a" stroke-width="0.9"/>
<line x1="177.31" y1="644.40" x2="177.31" y2="646.60" stroke="#1a1a1a" stroke-width="0.9"/>
<line x1="182.76" y1="644.40" x2="182.76" y2="646.60" stroke="#1a1a1a" stroke-width="0.9"/>
<line x1="188.20" y1="644.40" x2="188.20" y2="646.60" stroke="#1a1a1a" stroke-width="0.9"/>
<line x1="193.64" y1="644.40" x2="193.64" y2="646.60" stroke="#1a1a1a" stroke-width="0.9"/>
<line x1="199.09" y1="644.40" x2="199.09" y2="646.60" stroke="#1a1a1a" stroke-width="0.9"/>
<line x1="204.53" y1="644.40" x2="204.53" y2="646.60" stroke="#1a1a1a" stroke-width="0.9"/>
<line x1="209.98" y1="644.40" x2="209.98" y2="646.60" stroke="#1a1a1a" stroke-width="0.9"/>
<line x1="215.42" y1="644.40" x2="215.42" y2="646.60" stroke="#1a1a1a" stroke-width="0.9"/>
<line x1="220.87" y1="644.40" x2="220.87" y2="646.60" stroke="#1a1a1a" stroke-width="0.9"/>
<line x1="226.31" y1="644.40" x2="226.31" y2="646.60" stroke="#1a1a1a" stroke-width="0.9"/>
<line x1="231.76" y1="644.40" x2="231.76" y2="646.60" stroke="#1a1a1a" stroke-width="0.9"/>
<line x1="237.20" y1="644.40" x2="237.20" y2="646.60" stroke="#1a1a1a" stroke-width="0.9"/>
<text x="41.20" y="654.60" font-size="7.0" text-anchor="middle" class="t">0</text>
<text x="57.53" y="654.60" font-size="7.0" text-anchor="middle" class="t">12</text>
<text x="73.87" y="654.60" font-size="7.0" text-anchor="middle" class="t">24</text>
<text x="90.20" y="654.60" font-size="7.0" text-anchor="middle" class="t">36</text>
<text x="106.53" y="654.60" font-size="7.0" text-anchor="middle" class="t">48</text>
<text x="122.87" y="654.60" font-size="7.0" text-anchor="middle" class="t">60</text>
<text x="139.20" y="654.60" font-size="7.0" text-anchor="middle" class="t">72</text>
<text x="155.53" y="654.60" font-size="7.0" text-anchor="middle" class="t">84</text>
<text x="171.87" y="654.60" font-size="7.0" text-anchor="middle" class="t">96</text>
<text x="188.20" y="654.60" font-size="7.0" text-anchor="middle" class="t">108</text>
<text x="204.53" y="654.60" font-size="7.0" text-anchor="middle" class="t">120</text>
<text x="220.87" y="654.60" font-size="7.0" text-anchor="middle" class="t">132</text>
<text x="237.20" y="654.60" font-size="7.0" text-anchor="middle" class="t">144</text>
<text x="140.70" y="665.40" font-size="9" font-weight="bold" text-anchor="middle" fill="#1a1a1a" stroke="#1a1a1a" stroke-width="0.3" textLength="21" lengthAdjust="spacingAndGlyphs">Months</text>
<text transform="translate(18.50,582.00) rotate(-90)" font-size="8.6" font-weight="bold" text-anchor="middle" fill="#222" stroke="#222" stroke-width="0.2" textLength="44.5" lengthAdjust="spacingAndGlyphs">PFS, probability</text>
<text x="33.30" y="675.20" font-size="6.9" text-anchor="end" class="t">At risk</text>
<text x="41.20" y="675.20" font-size="6.8" text-anchor="middle" class="t">10</text>
<text x="57.53" y="675.20" font-size="6.8" text-anchor="middle" class="t">4</text>
<text x="73.87" y="675.20" font-size="6.8" text-anchor="middle" class="t">4</text>
<text x="90.20" y="675.20" font-size="6.8" text-anchor="middle" class="t">3</text>
<text x="106.53" y="675.20" font-size="6.8" text-anchor="middle" class="t">2</text>
<text x="122.87" y="675.20" font-size="6.8" text-anchor="middle" class="t">2</text>
<text x="139.20" y="675.20" font-size="6.8" text-anchor="middle" class="t">2</text>
<text x="155.53" y="675.20" font-size="6.8" text-anchor="middle" class="t">1</text>
<text x="171.87" y="675.20" font-size="6.8" text-anchor="middle" class="t">1</text>
<text x="188.20" y="675.20" font-size="6.8" text-anchor="middle" class="t">1</text>
<text x="204.53" y="675.20" font-size="6.8" text-anchor="middle" class="t">1</text>
<text x="220.87" y="675.20" font-size="6.8" text-anchor="middle" class="t">1</text>
<text x="237.20" y="675.20" font-size="6.8" text-anchor="middle" class="t">0</text>
<text x="277.6" y="525.6" font-size="12" font-weight="bold" fill="#000" stroke="#000" stroke-width="0.3">H</text>
<line x1="317.40" y1="518.40" x2="317.40" y2="644.90" stroke="#1a1a1a" stroke-width="1.25"/>
<line x1="316.90" y1="644.40" x2="517.70" y2="644.40" stroke="#1a1a1a" stroke-width="1.25"/>
<line x1="314.20" y1="644.40" x2="317.40" y2="644.40" stroke="#1a1a1a" stroke-width="1.0"/>
<text x="311.60" y="647.00" font-size="6.5" text-anchor="end" class="t">0.0</text>
<line x1="314.20" y1="632.12" x2="317.40" y2="632.12" stroke="#1a1a1a" stroke-width="1.0"/>
<text x="311.60" y="634.72" font-size="6.5" text-anchor="end" class="t">0.1</text>
<line x1="314.20" y1="619.84" x2="317.40" y2="619.84" stroke="#1a1a1a" stroke-width="1.0"/>
<text x="311.60" y="622.44" font-size="6.5" text-anchor="end" class="t">0.2</text>
<line x1="314.20" y1="607.56" x2="317.40" y2="607.56" stroke="#1a1a1a" stroke-width="1.0"/>
<text x="311.60" y="610.16" font-size="6.5" text-anchor="end" class="t">0.3</text>
<line x1="314.20" y1="595.28" x2="317.40" y2="595.28" stroke="#1a1a1a" stroke-width="1.0"/>
<text x="311.60" y="597.88" font-size="6.5" text-anchor="end" class="t">0.4</text>
<line x1="314.20" y1="583.00" x2="317.40" y2="583.00" stroke="#1a1a1a" stroke-width="1.0"/>
<text x="311.60" y="585.60" font-size="6.5" text-anchor="end" class="t">0.5</text>
<line x1="314.20" y1="570.72" x2="317.40" y2="570.72" stroke="#1a1a1a" stroke-width="1.0"/>
<text x="311.60" y="573.32" font-size="6.5" text-anchor="end" class="t">0.6</text>
<line x1="314.20" y1="558.44" x2="317.40" y2="558.44" stroke="#1a1a1a" stroke-width="1.0"/>
<text x="311.60" y="561.04" font-size="6.5" text-anchor="end" class="t">0.7</text>
<line x1="314.20" y1="546.16" x2="317.40" y2="546.16" stroke="#1a1a1a" stroke-width="1.0"/>
<text x="311.60" y="548.76" font-size="6.5" text-anchor="end" class="t">0.8</text>
<line x1="314.20" y1="533.88" x2="317.40" y2="533.88" stroke="#1a1a1a" stroke-width="1.0"/>
<text x="311.60" y="536.48" font-size="6.5" text-anchor="end" class="t">0.9</text>
<line x1="314.20" y1="521.60" x2="317.40" y2="521.60" stroke="#1a1a1a" stroke-width="1.0"/>
<text x="311.60" y="524.20" font-size="6.5" text-anchor="end" class="t">1.0</text>
<line x1="317.40" y1="644.40" x2="317.40" y2="646.60" stroke="#1a1a1a" stroke-width="0.9"/>
<line x1="333.80" y1="644.40" x2="333.80" y2="646.60" stroke="#1a1a1a" stroke-width="0.9"/>
<line x1="350.20" y1="644.40" x2="350.20" y2="646.60" stroke="#1a1a1a" stroke-width="0.9"/>
<line x1="366.60" y1="644.40" x2="366.60" y2="646.60" stroke="#1a1a1a" stroke-width="0.9"/>
<line x1="383.00" y1="644.40" x2="383.00" y2="646.60" stroke="#1a1a1a" stroke-width="0.9"/>
<line x1="399.40" y1="644.40" x2="399.40" y2="646.60" stroke="#1a1a1a" stroke-width="0.9"/>
<line x1="415.80" y1="644.40" x2="415.80" y2="646.60" stroke="#1a1a1a" stroke-width="0.9"/>
<line x1="432.20" y1="644.40" x2="432.20" y2="646.60" stroke="#1a1a1a" stroke-width="0.9"/>
<line x1="448.60" y1="644.40" x2="448.60" y2="646.60" stroke="#1a1a1a" stroke-width="0.9"/>
<line x1="465.00" y1="644.40" x2="465.00" y2="646.60" stroke="#1a1a1a" stroke-width="0.9"/>
<line x1="481.40" y1="644.40" x2="481.40" y2="646.60" stroke="#1a1a1a" stroke-width="0.9"/>
<line x1="497.80" y1="644.40" x2="497.80" y2="646.60" stroke="#1a1a1a" stroke-width="0.9"/>
<line x1="514.20" y1="644.40" x2="514.20" y2="646.60" stroke="#1a1a1a" stroke-width="0.9"/>
<text x="317.40" y="654.60" font-size="7.0" text-anchor="middle" class="t">0</text>
<text x="333.80" y="654.60" font-size="7.0" text-anchor="middle" class="t">12</text>
<text x="350.20" y="654.60" font-size="7.0" text-anchor="middle" class="t">24</text>
<text x="366.60" y="654.60" font-size="7.0" text-anchor="middle" class="t">36</text>
<text x="383.00" y="654.60" font-size="7.0" text-anchor="middle" class="t">48</text>
<text x="399.40" y="654.60" font-size="7.0" text-anchor="middle" class="t">60</text>
<text x="415.80" y="654.60" font-size="7.0" text-anchor="middle" class="t">72</text>
<text x="432.20" y="654.60" font-size="7.0" text-anchor="middle" class="t">84</text>
<text x="448.60" y="654.60" font-size="7.0" text-anchor="middle" class="t">96</text>
<text x="465.00" y="654.60" font-size="7.0" text-anchor="middle" class="t">108</text>
<text x="481.40" y="654.60" font-size="7.0" text-anchor="middle" class="t">120</text>
<text x="497.80" y="654.60" font-size="7.0" text-anchor="middle" class="t">132</text>
<text x="514.20" y="654.60" font-size="7.0" text-anchor="middle" class="t">144</text>
<text x="417.30" y="665.40" font-size="9" font-weight="bold" text-anchor="middle" fill="#1a1a1a" stroke="#1a1a1a" stroke-width="0.3" textLength="21" lengthAdjust="spacingAndGlyphs">Months</text>
<text transform="translate(294.70,582.00) rotate(-90)" font-size="8.6" font-weight="bold" text-anchor="middle" fill="#222" stroke="#222" stroke-width="0.2" textLength="41" lengthAdjust="spacingAndGlyphs">OS, probability</text>
<text x="309.50" y="675.20" font-size="6.9" text-anchor="end" class="t">CR</text>
<text x="317.40" y="675.20" font-size="6.8" text-anchor="middle" class="t">41</text>
<text x="333.80" y="675.20" font-size="6.8" text-anchor="middle" class="t">38</text>
<text x="350.20" y="675.20" font-size="6.8" text-anchor="middle" class="t">32</text>
<text x="366.60" y="675.20" font-size="6.8" text-anchor="middle" class="t">30</text>
<text x="383.00" y="675.20" font-size="6.8" text-anchor="middle" class="t">25</text>
<text x="399.40" y="675.20" font-size="6.8" text-anchor="middle" class="t">23</text>
<text x="415.80" y="675.20" font-size="6.8" text-anchor="middle" class="t">14</text>
<text x="432.20" y="675.20" font-size="6.8" text-anchor="middle" class="t">11</text>
<text x="448.60" y="675.20" font-size="6.8" text-anchor="middle" class="t">9</text>
<text x="465.00" y="675.20" font-size="6.8" text-anchor="middle" class="t">9</text>
<text x="481.40" y="675.20" font-size="6.8" text-anchor="middle" class="t">5</text>
<text x="497.80" y="675.20" font-size="6.8" text-anchor="middle" class="t">4</text>
<text x="514.20" y="675.20" font-size="6.8" text-anchor="middle" class="t">0</text>
<text x="309.50" y="683.40" font-size="6.9" text-anchor="end" class="t">PR</text>
<text x="317.40" y="683.40" font-size="6.8" text-anchor="middle" class="t">20</text>
<text x="333.80" y="683.40" font-size="6.8" text-anchor="middle" class="t">16</text>
<text x="350.20" y="683.40" font-size="6.8" text-anchor="middle" class="t">12</text>
<text x="366.60" y="683.40" font-size="6.8" text-anchor="middle" class="t">11</text>
<text x="383.00" y="683.40" font-size="6.8" text-anchor="middle" class="t">9</text>
<text x="399.40" y="683.40" font-size="6.8" text-anchor="middle" class="t">8</text>
<text x="415.80" y="683.40" font-size="6.8" text-anchor="middle" class="t">7</text>
<text x="432.20" y="683.40" font-size="6.8" text-anchor="middle" class="t">6</text>
<text x="448.60" y="683.40" font-size="6.8" text-anchor="middle" class="t">5</text>
<text x="465.00" y="683.40" font-size="6.8" text-anchor="middle" class="t">4</text>
<text x="481.40" y="683.40" font-size="6.8" text-anchor="middle" class="t">2</text>
<text x="497.80" y="683.40" font-size="6.8" text-anchor="middle" class="t">0</text>
<text x="514.20" y="683.40" font-size="6.8" text-anchor="middle" class="t">0</text>
<line x1="446.10" y1="627.50" x2="457.50" y2="627.50" stroke="#b0183c" stroke-width="1.4"/>
<text x="460.90" y="629.80" font-size="6.6" class="t" textLength="53.0" lengthAdjust="spacingAndGlyphs">Complete remission</text>
<line x1="446.10" y1="637.20" x2="457.50" y2="637.20" stroke="#285581" stroke-width="1.4"/>
<text x="460.90" y="639.50" font-size="6.6" class="t" textLength="42.8" lengthAdjust="spacingAndGlyphs">Partial response</text>
<path d="M41.30,6.80 L41.60,8.40 L42.90,10.30 L45.30,14.20 L46.50,19.70 L47.80,28.30 L48.50,33.30 L49.50,35.30 L51.50,36.90 L53.40,41.90 L102.20,41.90 L102.20,44.90 L236.90,44.90" fill="none" stroke="#b0183c" stroke-width="1.4" stroke-linejoin="miter"/>
<path d="M57.50,40.40v3M60.40,40.40v3M66.70,40.40v3M74.80,40.40v3M82.90,40.40v3M91.00,40.40v3M95.60,40.40v3M97.30,40.40v3M99.60,40.40v3M109.40,43.40v3M114.10,43.40v3M122.90,43.40v3M126.90,43.40v3M131.00,43.40v3M137.70,43.40v3M144.40,43.40v3M154.50,43.40v3M162.60,43.40v3M170.80,43.40v3M175.40,43.40v3M189.20,43.40v3M196.20,43.40v3M202.30,43.40v3M216.20,43.40v3M220.80,43.40v3M226.20,43.40v3M230.80,43.40v3M233.80,43.40v3M236.20,43.40v3" fill="none" stroke="#b0183c" stroke-width="0.9"/>
<path d="M317.60,6.80 L318.40,7.40 L319.40,8.20 L320.20,11.20 L321.30,14.30 L323.20,14.70 L323.60,17.80 L325.20,18.50 L325.50,23.90 L327.10,25.10 L329.40,26.60 L329.80,30.10 L334.40,30.10 L334.40,35.10 L336.30,35.80 L338.20,38.50 L378.10,38.50 L378.10,41.30 L513.30,41.30" fill="none" stroke="#b0183c" stroke-width="1.4" stroke-linejoin="miter"/>
<path d="M342.70,37.00v3M351.20,37.00v3M359.60,37.00v3M367.30,37.00v3M373.50,37.00v3M375.80,37.00v3M385.00,39.80v3M391.20,39.80v3M399.60,39.80v3M401.20,39.80v3M403.50,39.80v3M405.80,39.80v3M408.10,39.80v3M414.40,39.80v3M417.90,39.80v3M420.20,39.80v3M421.90,39.80v3M432.30,39.80v3M439.80,39.80v3M446.70,39.80v3M452.50,39.80v3M466.30,39.80v3M472.10,39.80v3M477.90,39.80v3M479.00,39.80v3M490.60,39.80v3M492.90,39.80v3M497.50,39.80v3M503.80,39.80v3M506.20,39.80v3M508.50,39.80v3M510.80,39.80v3M513.10,39.80v3" fill="none" stroke="#b0183c" stroke-width="0.9"/>
<path d="M41.30,172.90 L42.30,177.80 L44.60,179.20 L44.90,183.80 L46.50,189.70 L47.80,195.60 L48.50,201.50 L49.50,204.50 L51.50,206.00 L52.80,208.90 L126.90,208.90" fill="none" stroke="#285581" stroke-width="1.4" stroke-linejoin="miter"/>
<path d="M57.00,207.40v3M60.20,207.40v3M65.60,207.40v3M74.80,207.40v3M82.30,207.40v3M90.90,207.40v3M97.40,207.40v3M114.60,207.40v3M122.30,207.40v3M123.80,207.40v3M125.40,207.40v3M132.00,207.50v2.8M130.80,208.90h2.4M137.70,207.50v2.8M136.50,208.90h2.4M145.80,207.50v2.8M144.60,208.90h2.4M155.70,207.50v2.8M154.50,208.90h2.4M163.10,207.50v2.8M161.90,208.90h2.4M170.50,207.50v2.8M169.30,208.90h2.4M189.20,207.50v2.8M188.00,208.90h2.4M196.20,207.50v2.8M195.00,208.90h2.4M203.10,207.50v2.8M201.90,208.90h2.4M216.20,207.50v2.8M215.00,208.90h2.4M220.80,207.50v2.8M219.60,208.90h2.4M230.00,207.50v2.8M228.80,208.90h2.4M235.40,207.50v2.8M234.20,208.90h2.4" fill="none" stroke="#285581" stroke-width="0.9"/>
<path d="M41.30,172.90 L42.30,177.80 L44.60,179.20 L44.90,183.80 L46.50,189.70 L47.80,195.60 L48.50,201.50 L53.40,201.50 L53.40,206.80 L102.30,206.80 L102.30,218.30 L233.50,218.30" fill="none" stroke="#b0183c" stroke-width="1.4" stroke-linejoin="miter"/>
<path d="M58.00,205.30v3M66.00,205.30v3M74.80,205.30v3M83.40,205.30v3M93.00,205.30v3M99.50,205.30v3M109.20,216.80v3M128.50,216.80v3M130.00,216.80v3M144.60,216.80v3M175.40,216.80v3M201.20,216.80v3M233.10,216.80v3" fill="none" stroke="#b0183c" stroke-width="0.9"/>
<path d="M317.60,173.20 L320.20,178.00 L323.20,178.80 L323.20,183.80 L324.80,184.50 L326.70,190.30 L329.40,190.70 L329.80,194.20 L334.40,194.20 L334.40,199.50 L336.70,199.90 L337.50,203.30 L409.20,203.30" fill="none" stroke="#285581" stroke-width="1.4" stroke-linejoin="miter"/>
<path d="M341.50,201.80v3M351.50,201.80v3M368.50,201.80v3M374.60,201.80v3M376.20,201.80v3M391.50,201.80v3M400.00,201.80v3M401.50,201.80v3M403.80,201.80v3M406.90,201.80v3M413.90,201.80v2.8M412.70,203.20h2.4M417.30,201.80v2.8M416.10,203.20h2.4M421.90,201.80v2.8M420.70,203.20h2.4M432.30,201.80v2.8M431.10,203.20h2.4M440.40,201.80v2.8M439.20,203.20h2.4M447.30,201.80v2.8M446.10,203.20h2.4M465.80,201.80v2.8M464.60,203.20h2.4M473.90,201.80v2.8M472.70,203.20h2.4M479.70,201.80v2.8M478.50,203.20h2.4M491.20,201.80v2.8M490.00,203.20h2.4M493.50,201.80v2.8M492.30,203.20h2.4M498.20,201.80v2.8M497.00,203.20h2.4M507.40,201.80v2.8M506.20,203.20h2.4M513.20,201.80v2.8M512.00,203.20h2.4" fill="none" stroke="#285581" stroke-width="0.9"/>
<path d="M317.60,173.20 L318.60,173.40 L319.80,178.00 L321.30,178.80 L321.30,184.20 L324.80,184.50 L325.50,188.40 L325.50,195.70 L329.40,195.70 L329.40,201.80 L334.40,201.80 L334.40,207.90 L378.50,207.90 L378.50,218.60 L511.30,218.60" fill="none" stroke="#b0183c" stroke-width="1.4" stroke-linejoin="miter"/>
<path d="M336.90,206.40v3M343.10,206.40v3M351.50,206.40v3M359.20,206.40v3M367.70,206.40v3M373.10,206.40v3M376.20,206.40v3M385.40,217.10v3M404.60,217.10v3M406.90,217.10v3M420.80,217.10v3M453.10,217.10v3M478.50,217.10v3M510.90,217.10v3" fill="none" stroke="#b0183c" stroke-width="0.9"/>
<path d="M41.30,347.30 L42.30,351.80 L44.90,353.50 L45.20,358.10 L46.50,363.70 L47.80,369.60 L48.50,374.80 L48.80,377.10 L51.10,377.80 L52.10,381.40 L52.80,383.30 L102.30,383.30 L102.30,387.60 L163.80,387.60" fill="none" stroke="#285581" stroke-width="1.4" stroke-linejoin="miter"/>
<path d="M65.40,381.80v3M74.60,381.80v3M83.10,381.80v3M91.50,381.80v3M97.70,381.80v3M109.20,386.10v3M114.60,386.10v3M119.20,386.10v3M125.40,386.10v3M130.40,386.10v3M145.40,386.10v3M162.70,386.10v3M170.50,386.20v2.8M169.30,387.60h2.4M189.50,386.20v2.8M188.30,387.60h2.4M201.50,386.20v2.8M200.30,387.60h2.4M203.10,386.20v2.8M201.90,387.60h2.4M216.20,386.20v2.8M215.00,387.60h2.4M220.80,386.20v2.8M219.60,387.60h2.4M230.00,386.20v2.8M228.80,387.60h2.4M232.30,386.20v2.8M231.10,387.60h2.4M235.40,386.20v2.8M234.20,387.60h2.4" fill="none" stroke="#285581" stroke-width="0.9"/>
<path d="M41.30,347.30 L42.30,351.80 L44.90,353.50 L45.20,358.10 L46.50,363.70 L47.80,369.60 L48.50,374.80 L53.40,375.20 L53.40,380.70 L196.90,380.70" fill="none" stroke="#b0183c" stroke-width="1.4" stroke-linejoin="miter"/>
<path d="M54.60,379.20v3M56.90,379.20v3M60.00,379.20v3M66.20,379.20v3M74.60,379.20v3M81.50,379.20v3M91.50,379.20v3M94.60,379.20v3M114.60,379.20v3M122.30,379.20v3M128.50,379.20v3M131.50,379.20v3M137.30,379.20v3M154.60,379.20v3M175.40,379.20v3M196.20,379.20v3" fill="none" stroke="#b0183c" stroke-width="0.9"/>
<path d="M317.60,347.40 L320.50,353.20 L323.60,353.50 L323.60,358.20 L325.20,358.90 L326.70,364.30 L329.40,365.10 L329.80,368.50 L334.40,368.50 L334.40,374.30 L337.10,374.70 L337.50,377.80 L378.10,377.80 L378.10,381.60 L473.10,381.60" fill="none" stroke="#285581" stroke-width="1.4" stroke-linejoin="miter"/>
<path d="M341.50,376.30v3M348.00,376.30v3M356.00,376.30v3M362.00,376.30v3M368.00,376.30v3M373.00,376.30v3M479.20,380.40v2.8M478.00,381.80h2.4M490.80,380.40v2.8M489.60,381.80h2.4M493.10,380.40v2.8M491.90,381.80h2.4M497.70,380.40v2.8M496.50,381.80h2.4M506.90,380.40v2.8M505.70,381.80h2.4M509.20,380.40v2.8M508.00,381.80h2.4M511.50,380.40v2.8M510.30,381.80h2.4" fill="none" stroke="#285581" stroke-width="0.9"/>
<path d="M317.60,347.40 L320.20,352.80 L321.70,353.20 L321.70,358.50 L324.80,358.90 L325.50,362.80 L325.50,369.30 L329.80,369.30 L329.80,375.50 L334.40,375.50 L334.80,381.20 L473.10,381.20" fill="none" stroke="#b0183c" stroke-width="1.4" stroke-linejoin="miter"/>
<path d="M339.00,379.70v3M345.00,379.70v3M352.00,379.70v3M360.00,379.70v3M370.00,379.70v3M392.00,379.70v3M400.00,379.70v3M405.00,379.70v3M408.00,379.70v3M412.00,379.70v3M420.00,379.70v3M428.00,379.70v3M436.00,379.70v3M446.00,379.70v3M455.00,379.70v3M467.00,379.70v3M472.50,379.70v3" fill="none" stroke="#b0183c" stroke-width="0.9"/>
<path d="M45.50,533.60 L45.50,546.30 L49.00,546.30 L49.00,558.70 L53.00,558.70 L53.00,570.80 L233.50,570.80" fill="none" stroke="#b0183c" stroke-width="1.4" stroke-linejoin="miter"/>
<path d="M60.00,569.30v3M61.50,569.30v3M74.90,569.30v3M95.50,569.30v3M144.80,569.30v3M233.20,569.30v3" fill="none" stroke="#b0183c" stroke-width="0.9"/>
<path d="M317.60,521.20 L325.50,521.20 L325.50,524.70 L326.70,527.50 L326.70,533.90 L329.00,533.90 L329.00,546.20 L334.20,546.20 L334.20,552.30 L334.80,555.20 L334.80,558.50 L337.70,558.50 L337.70,564.90 L494.40,564.90" fill="none" stroke="#285581" stroke-width="1.4" stroke-linejoin="miter"/>
<path d="M359.60,563.40v3M372.70,563.40v3M373.90,563.40v3M391.20,563.40v3M399.30,563.40v3M421.20,563.40v3M439.70,563.40v3M453.50,563.40v3M466.50,563.40v3M467.40,563.40v3M490.40,563.40v3M493.70,563.40v3" fill="none" stroke="#285581" stroke-width="0.9"/>
<path d="M317.60,521.20 L324.50,521.20 L324.50,524.30 L325.70,524.30 L325.70,527.50 L334.80,527.50 L334.80,530.60 L378.20,530.60 L378.20,535.10 L512.70,535.10" fill="none" stroke="#b0183c" stroke-width="1.4" stroke-linejoin="miter"/>
<path d="M337.70,529.10v3M342.80,529.10v3M351.50,529.10v3M368.50,529.10v3M376.20,529.10v3M385.40,533.60v3M393.80,533.60v3M400.80,533.60v3M403.10,533.60v3M405.40,533.60v3M407.70,533.60v3M410.00,533.60v3M414.60,533.60v3M418.50,533.60v3M422.30,533.60v3M432.30,533.60v3M447.30,533.60v3M467.20,533.60v3M472.40,533.60v3M479.30,533.60v3M493.10,533.60v3M497.50,533.60v3M502.70,533.60v3M506.10,533.60v3M508.70,533.60v3M511.30,533.60v3" fill="none" stroke="#b0183c" stroke-width="0.9"/>
</svg>
</body></html>
